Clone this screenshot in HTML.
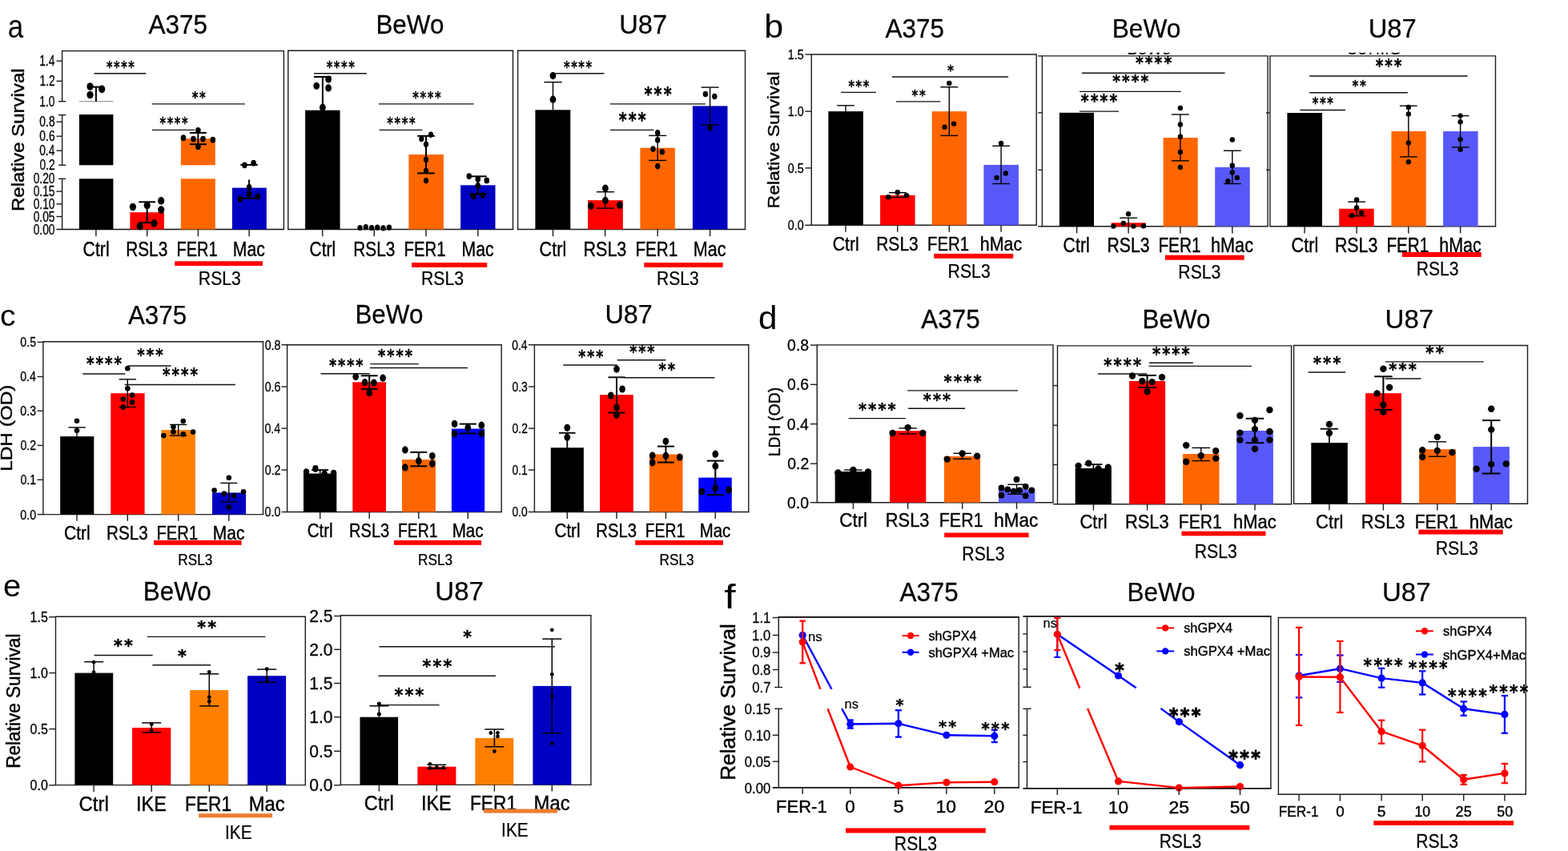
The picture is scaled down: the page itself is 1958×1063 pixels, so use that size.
<!DOCTYPE html>
<html lang="en"><head><meta charset="utf-8"><title>Figure</title>
<style>
html,body{margin:0;padding:0;background:#fff;}
body{width:1958px;height:1063px;overflow:hidden;font-family:'Liberation Sans',sans-serif;}
svg{display:block;}
text{white-space:pre;}
</style></head><body>
<svg width="1958" height="1063" viewBox="0 0 1958 1063">
<rect x="0" y="0" width="1958" height="1063" fill="#fff"/>
<text transform="translate(9.71,46.99) scale(1.7561,2.0457)" font-family="'Liberation Sans', sans-serif" font-size="20" fill="#000">a</text>
<text transform="translate(30.38,263.98) rotate(-90) scale(1.1990,1.0816)" font-family="'Liberation Sans', sans-serif" font-size="20" stroke="#000" stroke-width="0.4" stroke-linejoin="round">Relative Survival</text>
<line x1="77" y1="63.7" x2="355" y2="63.7" stroke="#111" stroke-width="1.3"/>
<line x1="70.5" y1="286.5" x2="355" y2="286.5" stroke="#111" stroke-width="1.3"/>
<line x1="354.4" y1="63.7" x2="354.4" y2="286.5" stroke="#111" stroke-width="1.3"/>
<line x1="77.6" y1="63.7" x2="77.6" y2="126.7" stroke="#111" stroke-width="1.3"/>
<line x1="77.6" y1="143.6" x2="77.6" y2="206.3" stroke="#111" stroke-width="1.3"/>
<line x1="77.6" y1="223.3" x2="77.6" y2="286.5" stroke="#111" stroke-width="1.3"/>
<line x1="70.5" y1="76.2" x2="77.6" y2="76.2" stroke="#1c1c1c" stroke-width="1.4"/>
<line x1="70.5" y1="101.3" x2="77.6" y2="101.3" stroke="#1c1c1c" stroke-width="1.4"/>
<line x1="70.5" y1="152.2" x2="77.6" y2="152.2" stroke="#1c1c1c" stroke-width="1.4"/>
<line x1="70.5" y1="170.2" x2="77.6" y2="170.2" stroke="#1c1c1c" stroke-width="1.4"/>
<line x1="70.5" y1="188.2" x2="77.6" y2="188.2" stroke="#1c1c1c" stroke-width="1.4"/>
<line x1="70.5" y1="239.1" x2="77.6" y2="239.1" stroke="#1c1c1c" stroke-width="1.4"/>
<line x1="70.5" y1="254.8" x2="77.6" y2="254.8" stroke="#1c1c1c" stroke-width="1.4"/>
<line x1="70.5" y1="270.5" x2="77.6" y2="270.5" stroke="#1c1c1c" stroke-width="1.4"/>
<line x1="73" y1="126.7" x2="82.2" y2="126.7" stroke="#1c1c1c" stroke-width="1.4"/>
<line x1="73" y1="143.6" x2="82.2" y2="143.6" stroke="#1c1c1c" stroke-width="1.4"/>
<line x1="73" y1="206.3" x2="82.2" y2="206.3" stroke="#1c1c1c" stroke-width="1.4"/>
<line x1="73" y1="223.3" x2="82.2" y2="223.3" stroke="#1c1c1c" stroke-width="1.4"/>
<text transform="translate(49.16,82.35) scale(0.7733,1)" font-family="'Liberation Sans', sans-serif" font-size="17.88" fill="#000" stroke="#000" stroke-width="0.3" stroke-linejoin="round">1.4</text>
<text transform="translate(49.47,107.45) scale(0.7733,1)" font-family="'Liberation Sans', sans-serif" font-size="17.88" fill="#000" stroke="#000" stroke-width="0.3" stroke-linejoin="round">1.2</text>
<text transform="translate(49.3,132.85) scale(0.7733,1)" font-family="'Liberation Sans', sans-serif" font-size="17.88" fill="#000" stroke="#000" stroke-width="0.3" stroke-linejoin="round">1.0</text>
<text transform="translate(49.37,158.35) scale(0.7733,1)" font-family="'Liberation Sans', sans-serif" font-size="17.88" fill="#000" stroke="#000" stroke-width="0.3" stroke-linejoin="round">0.8</text>
<text transform="translate(49.37,176.35) scale(0.7733,1)" font-family="'Liberation Sans', sans-serif" font-size="17.88" fill="#000" stroke="#000" stroke-width="0.3" stroke-linejoin="round">0.6</text>
<text transform="translate(49.16,194.35) scale(0.7733,1)" font-family="'Liberation Sans', sans-serif" font-size="17.88" fill="#000" stroke="#000" stroke-width="0.3" stroke-linejoin="round">0.4</text>
<text transform="translate(49.47,212.45) scale(0.7733,1)" font-family="'Liberation Sans', sans-serif" font-size="17.88" fill="#000" stroke="#000" stroke-width="0.3" stroke-linejoin="round">0.2</text>
<text transform="translate(41.63,229.45) scale(0.7733,1)" font-family="'Liberation Sans', sans-serif" font-size="17.88" fill="#000" stroke="#000" stroke-width="0.3" stroke-linejoin="round">0.20</text>
<text transform="translate(41.66,245.25) scale(0.7733,1)" font-family="'Liberation Sans', sans-serif" font-size="17.88" fill="#000" stroke="#000" stroke-width="0.3" stroke-linejoin="round">0.15</text>
<text transform="translate(41.63,260.95) scale(0.7733,1)" font-family="'Liberation Sans', sans-serif" font-size="17.88" fill="#000" stroke="#000" stroke-width="0.3" stroke-linejoin="round">0.10</text>
<text transform="translate(41.66,276.65) scale(0.7733,1)" font-family="'Liberation Sans', sans-serif" font-size="17.88" fill="#000" stroke="#000" stroke-width="0.3" stroke-linejoin="round">0.05</text>
<text transform="translate(41.63,292.65) scale(0.7733,1)" font-family="'Liberation Sans', sans-serif" font-size="17.88" fill="#000" stroke="#000" stroke-width="0.3" stroke-linejoin="round">0.00</text>
<text transform="translate(185.42,41.9) scale(0.9393,1)" font-family="'Liberation Sans', sans-serif" font-size="33.58" fill="#000" stroke="#000" stroke-width="0.25" stroke-linejoin="round">A375</text>
<rect x="98.9" y="143" width="42.5" height="63.3" fill="#000"/>
<rect x="98.9" y="223.3" width="42.5" height="63.2" fill="#000"/>
<line x1="98.9" y1="126.7" x2="141.4" y2="126.7" stroke="#333" stroke-width="0.6"/>
<rect x="162.4" y="265.2" width="42.5" height="21.3" fill="#ff0000"/>
<rect x="225.9" y="173.2" width="42.9" height="33.1" fill="#ff6600"/>
<rect x="225.9" y="223.3" width="42.9" height="63.2" fill="#ff6600"/>
<rect x="289.9" y="234.6" width="42.9" height="51.9" fill="#0000c0"/>
<line x1="119.9" y1="108.6" x2="119.9" y2="126.7" stroke="#000" stroke-width="2"/>
<line x1="114" y1="108.6" x2="127" y2="108.6" stroke="#000" stroke-width="2"/>
<ellipse cx="112.5" cy="108" rx="4.1" ry="4.83" fill="#000"/>
<ellipse cx="127.2" cy="111.3" rx="4.1" ry="4.83" fill="#000"/>
<ellipse cx="112.5" cy="118.5" rx="4.1" ry="4.83" fill="#000"/>
<line x1="183.7" y1="252.3" x2="183.7" y2="278.1" stroke="#000" stroke-width="2"/>
<line x1="173.2" y1="252.3" x2="194.2" y2="252.3" stroke="#000" stroke-width="2"/>
<line x1="173.2" y1="278.1" x2="194.2" y2="278.1" stroke="#000" stroke-width="2"/>
<ellipse cx="201.2" cy="250.9" rx="4.1" ry="4.83" fill="#000"/>
<ellipse cx="165.9" cy="258.5" rx="4.1" ry="4.83" fill="#000"/>
<ellipse cx="183.7" cy="256.6" rx="4.1" ry="4.83" fill="#000"/>
<ellipse cx="201.2" cy="262.1" rx="4.1" ry="4.83" fill="#000"/>
<ellipse cx="192.4" cy="278.9" rx="4.1" ry="4.83" fill="#000"/>
<ellipse cx="174.7" cy="282.6" rx="4.1" ry="4.83" fill="#000"/>
<line x1="247.4" y1="165.9" x2="247.4" y2="180.2" stroke="#000" stroke-width="2"/>
<line x1="236.9" y1="165.9" x2="257.9" y2="165.9" stroke="#000" stroke-width="2"/>
<line x1="236.9" y1="180.2" x2="257.9" y2="180.2" stroke="#000" stroke-width="2"/>
<ellipse cx="247.4" cy="162.8" rx="3.3" ry="3.91" fill="#000"/>
<ellipse cx="229" cy="172.2" rx="3.3" ry="3.91" fill="#000"/>
<ellipse cx="241.5" cy="173.6" rx="3.3" ry="3.91" fill="#000"/>
<ellipse cx="253.5" cy="173.6" rx="3.3" ry="3.91" fill="#000"/>
<ellipse cx="265.8" cy="174.7" rx="3.3" ry="3.91" fill="#000"/>
<ellipse cx="247.4" cy="183.2" rx="3.3" ry="3.91" fill="#000"/>
<line x1="300.3" y1="205.9" x2="321.8" y2="205.9" stroke="#000" stroke-width="2"/>
<line x1="311.1" y1="224.4" x2="311.1" y2="247.8" stroke="#000" stroke-width="2"/>
<line x1="300.3" y1="247.8" x2="321.8" y2="247.8" stroke="#000" stroke-width="2"/>
<ellipse cx="305.4" cy="206.3" rx="3.3" ry="3.91" fill="#000"/>
<ellipse cx="316.6" cy="203.7" rx="3.3" ry="3.91" fill="#000"/>
<ellipse cx="311.1" cy="234" rx="3.3" ry="3.91" fill="#000"/>
<ellipse cx="311.1" cy="242.7" rx="3.3" ry="3.91" fill="#000"/>
<ellipse cx="321.8" cy="245.4" rx="3.3" ry="3.91" fill="#000"/>
<ellipse cx="299.9" cy="248.5" rx="3.3" ry="3.91" fill="#000"/>
<line x1="117.5" y1="91.7" x2="182.4" y2="91.7" stroke="#111" stroke-width="1.4"/>
<text transform="translate(132.91,89.57) scale(0.7184,0.9677)" font-family="'DejaVu Sans', sans-serif" font-size="20" font-weight="bold" letter-spacing="2.24" fill="#000" stroke="#000" stroke-width="0.4" stroke-linejoin="round">****</text>
<line x1="189.6" y1="129.9" x2="305.8" y2="129.9" stroke="#111" stroke-width="1.4"/>
<text transform="translate(239.71,127.85) scale(0.7339,0.9462)" font-family="'DejaVu Sans', sans-serif" font-size="20" font-weight="bold" letter-spacing="2.24" fill="#000" stroke="#000" stroke-width="0.4" stroke-linejoin="round">**</text>
<line x1="190" y1="162.4" x2="243.1" y2="162.4" stroke="#111" stroke-width="1.4"/>
<text transform="translate(199.51,160.39) scale(0.7226,0.9892)" font-family="'DejaVu Sans', sans-serif" font-size="20" font-weight="bold" letter-spacing="2.24" fill="#000" stroke="#000" stroke-width="0.4" stroke-linejoin="round">****</text>
<line x1="119.9" y1="286.5" x2="119.9" y2="295.3" stroke="#1c1c1c" stroke-width="1.4"/>
<line x1="183.7" y1="286.5" x2="183.7" y2="295.3" stroke="#1c1c1c" stroke-width="1.4"/>
<line x1="247.4" y1="286.5" x2="247.4" y2="295.3" stroke="#1c1c1c" stroke-width="1.4"/>
<line x1="311.1" y1="286.5" x2="311.1" y2="295.3" stroke="#1c1c1c" stroke-width="1.4"/>
<text transform="translate(103.54,319.9) scale(0.8091,1)" font-family="'Liberation Sans', sans-serif" font-size="26.31" fill="#000" stroke="#000" stroke-width="0.4" stroke-linejoin="round">Ctrl</text>
<text transform="translate(157.18,319.9) scale(0.7922,1)" font-family="'Liberation Sans', sans-serif" font-size="26.31" fill="#000" stroke="#000" stroke-width="0.4" stroke-linejoin="round">RSL3</text>
<text transform="translate(220.45,319.9) scale(0.7618,1)" font-family="'Liberation Sans', sans-serif" font-size="26.31" fill="#000" stroke="#000" stroke-width="0.4" stroke-linejoin="round">FER1</text>
<text transform="translate(290.75,319.9) scale(0.8072,1)" font-family="'Liberation Sans', sans-serif" font-size="26.31" fill="#000" stroke="#000" stroke-width="0.4" stroke-linejoin="round">Mac</text>
<rect x="218.2" y="326.3" width="109.9" height="5.7" fill="#ff0000"/>
<text transform="translate(247.85,355.7) scale(0.8521,1)" font-family="'Liberation Sans', sans-serif" font-size="24.85" fill="#000" stroke="#000" stroke-width="0.25" stroke-linejoin="round">RSL3</text>
<line x1="359.1" y1="63.3" x2="641.2" y2="63.3" stroke="#1c1c1c" stroke-width="1.4"/>
<line x1="359.1" y1="286.5" x2="641.2" y2="286.5" stroke="#1c1c1c" stroke-width="1.4"/>
<line x1="640.5" y1="63.3" x2="640.5" y2="286.5" stroke="#1c1c1c" stroke-width="1.4"/>
<line x1="359.8" y1="63.3" x2="359.8" y2="286.5" stroke="#1c1c1c" stroke-width="1.4"/>
<text transform="translate(469.41,41.9) scale(0.9353,1)" font-family="'Liberation Sans', sans-serif" font-size="33.58" fill="#000" stroke="#000" stroke-width="0.25" stroke-linejoin="round">BeWo</text>
<rect x="381.1" y="137.7" width="43.5" height="148.8" fill="#000"/>
<rect x="510.4" y="193" width="43.5" height="93.5" fill="#ff6600"/>
<rect x="575.1" y="231.3" width="43.4" height="55.2" fill="#0000c0"/>
<line x1="402.9" y1="96" x2="402.9" y2="137.7" stroke="#000" stroke-width="2"/>
<line x1="392.1" y1="96" x2="413.5" y2="96" stroke="#000" stroke-width="2"/>
<ellipse cx="410.1" cy="99.1" rx="3.9" ry="4.6" fill="#000"/>
<ellipse cx="395.2" cy="107.3" rx="3.9" ry="4.6" fill="#000"/>
<ellipse cx="410.1" cy="109.9" rx="3.9" ry="4.6" fill="#000"/>
<ellipse cx="402.9" cy="134.2" rx="3.9" ry="4.6" fill="#000"/>
<ellipse cx="449.5" cy="284.5" rx="3.2" ry="3.6" fill="#000"/>
<ellipse cx="456.8" cy="283.6" rx="3.2" ry="3.6" fill="#000"/>
<ellipse cx="464.1" cy="284.5" rx="3.2" ry="3.6" fill="#000"/>
<ellipse cx="471.3" cy="284.2" rx="3.2" ry="3.6" fill="#000"/>
<ellipse cx="478.6" cy="284.8" rx="3.2" ry="3.6" fill="#000"/>
<ellipse cx="485.9" cy="284.2" rx="3.2" ry="3.6" fill="#000"/>
<line x1="532" y1="169.8" x2="532" y2="216.4" stroke="#000" stroke-width="2"/>
<line x1="521.15" y1="169.8" x2="542.85" y2="169.8" stroke="#000" stroke-width="2"/>
<line x1="521.15" y1="216.4" x2="542.85" y2="216.4" stroke="#000" stroke-width="2"/>
<ellipse cx="538" cy="168.2" rx="3.1" ry="3.68" fill="#000"/>
<ellipse cx="526.3" cy="173.5" rx="3.1" ry="3.68" fill="#000"/>
<ellipse cx="532" cy="180.2" rx="3.1" ry="3.68" fill="#000"/>
<ellipse cx="532" cy="199.4" rx="3.1" ry="3.68" fill="#000"/>
<ellipse cx="532" cy="213.5" rx="3.1" ry="3.68" fill="#000"/>
<ellipse cx="532" cy="225.6" rx="3.1" ry="3.68" fill="#000"/>
<line x1="596.8" y1="220.3" x2="596.8" y2="242.3" stroke="#000" stroke-width="2"/>
<line x1="585.95" y1="220.3" x2="607.65" y2="220.3" stroke="#000" stroke-width="2"/>
<line x1="585.95" y1="242.3" x2="607.65" y2="242.3" stroke="#000" stroke-width="2"/>
<ellipse cx="585.8" cy="220.1" rx="3.3" ry="3.91" fill="#000"/>
<ellipse cx="596.8" cy="223.7" rx="3.3" ry="3.91" fill="#000"/>
<ellipse cx="607.8" cy="225.4" rx="3.3" ry="3.91" fill="#000"/>
<ellipse cx="596.8" cy="231.9" rx="3.3" ry="3.91" fill="#000"/>
<ellipse cx="591.3" cy="245.2" rx="3.3" ry="3.91" fill="#000"/>
<ellipse cx="602.7" cy="243.8" rx="3.3" ry="3.91" fill="#000"/>
<line x1="392.1" y1="91.7" x2="457.9" y2="91.7" stroke="#111" stroke-width="1.4"/>
<text transform="translate(407.71,89.57) scale(0.7205,0.9677)" font-family="'DejaVu Sans', sans-serif" font-size="20" font-weight="bold" letter-spacing="2.24" fill="#000" stroke="#000" stroke-width="0.4" stroke-linejoin="round">****</text>
<line x1="473.2" y1="129.9" x2="591.7" y2="129.9" stroke="#111" stroke-width="1.4"/>
<text transform="translate(515.21,128.49) scale(0.7268,0.9892)" font-family="'DejaVu Sans', sans-serif" font-size="20" font-weight="bold" letter-spacing="2.24" fill="#000" stroke="#000" stroke-width="0.4" stroke-linejoin="round">****</text>
<line x1="473.6" y1="162.4" x2="527.5" y2="162.4" stroke="#111" stroke-width="1.4"/>
<text transform="translate(483.31,160.39) scale(0.7289,0.9892)" font-family="'DejaVu Sans', sans-serif" font-size="20" font-weight="bold" letter-spacing="2.24" fill="#000" stroke="#000" stroke-width="0.4" stroke-linejoin="round">****</text>
<line x1="402.7" y1="286.5" x2="402.7" y2="295.2" stroke="#1c1c1c" stroke-width="1.4"/>
<line x1="467.3" y1="286.5" x2="467.3" y2="295.2" stroke="#1c1c1c" stroke-width="1.4"/>
<line x1="532" y1="286.5" x2="532" y2="295.2" stroke="#1c1c1c" stroke-width="1.4"/>
<line x1="596.8" y1="286.5" x2="596.8" y2="295.2" stroke="#1c1c1c" stroke-width="1.4"/>
<text transform="translate(386.55,319.9) scale(0.7986,1)" font-family="'Liberation Sans', sans-serif" font-size="26.31" fill="#000" stroke="#000" stroke-width="0.4" stroke-linejoin="round">Ctrl</text>
<text transform="translate(441.28,319.9) scale(0.7906,1)" font-family="'Liberation Sans', sans-serif" font-size="26.31" fill="#000" stroke="#000" stroke-width="0.4" stroke-linejoin="round">RSL3</text>
<text transform="translate(504.41,319.9) scale(0.7775,1)" font-family="'Liberation Sans', sans-serif" font-size="26.31" fill="#000" stroke="#000" stroke-width="0.4" stroke-linejoin="round">FER1</text>
<text transform="translate(576.45,319.9) scale(0.8072,1)" font-family="'Liberation Sans', sans-serif" font-size="26.31" fill="#000" stroke="#000" stroke-width="0.4" stroke-linejoin="round">Mac</text>
<rect x="514.1" y="328.1" width="94.1" height="5.8" fill="#ff0000"/>
<text transform="translate(526.05,355.7) scale(0.8538,1)" font-family="'Liberation Sans', sans-serif" font-size="24.85" fill="#000" stroke="#000" stroke-width="0.25" stroke-linejoin="round">RSL3</text>
<line x1="645.9" y1="63.3" x2="931.2" y2="63.3" stroke="#1c1c1c" stroke-width="1.4"/>
<line x1="645.9" y1="286.5" x2="931.2" y2="286.5" stroke="#1c1c1c" stroke-width="1.4"/>
<line x1="930.5" y1="63.3" x2="930.5" y2="286.5" stroke="#1c1c1c" stroke-width="1.4"/>
<line x1="646.6" y1="63.3" x2="646.6" y2="286.5" stroke="#1c1c1c" stroke-width="1.4"/>
<text transform="translate(773.17,41.9) scale(0.9730,1)" font-family="'Liberation Sans', sans-serif" font-size="33.58" fill="#000" stroke="#000" stroke-width="0.25" stroke-linejoin="round">U87</text>
<rect x="668.4" y="137.3" width="43.9" height="149.2" fill="#000"/>
<rect x="734" y="250.1" width="43.9" height="36.4" fill="#ff0000"/>
<rect x="799.4" y="184.7" width="43.5" height="101.8" fill="#ff6600"/>
<rect x="864.9" y="132.4" width="43.6" height="154.1" fill="#0000c0"/>
<line x1="690.5" y1="102.6" x2="690.5" y2="137.3" stroke="#000" stroke-width="1.4"/>
<line x1="679.4" y1="102.6" x2="701.7" y2="102.6" stroke="#000" stroke-width="1.4"/>
<ellipse cx="690.5" cy="94.6" rx="3.9" ry="4.6" fill="#000"/>
<ellipse cx="690.5" cy="124.2" rx="3.9" ry="4.6" fill="#000"/>
<line x1="755.9" y1="239.7" x2="755.9" y2="260.1" stroke="#000" stroke-width="1.4"/>
<line x1="744.9" y1="239.7" x2="766.9" y2="239.7" stroke="#000" stroke-width="1.4"/>
<line x1="744.9" y1="260.1" x2="766.9" y2="260.1" stroke="#000" stroke-width="1.4"/>
<ellipse cx="755.9" cy="235.2" rx="3.9" ry="4.6" fill="#000"/>
<ellipse cx="755.9" cy="250.5" rx="3.9" ry="4.6" fill="#000"/>
<ellipse cx="737.9" cy="257.2" rx="3.9" ry="4.6" fill="#000"/>
<ellipse cx="773.8" cy="256.2" rx="3.9" ry="4.6" fill="#000"/>
<line x1="821.2" y1="169.4" x2="821.2" y2="200.4" stroke="#000" stroke-width="1.4"/>
<line x1="810.2" y1="169.4" x2="832.2" y2="169.4" stroke="#000" stroke-width="1.4"/>
<line x1="810.2" y1="200.4" x2="832.2" y2="200.4" stroke="#000" stroke-width="1.4"/>
<ellipse cx="821.2" cy="165.9" rx="3.2" ry="3.79" fill="#000"/>
<ellipse cx="821.2" cy="174.9" rx="3.2" ry="3.79" fill="#000"/>
<ellipse cx="815.5" cy="186.1" rx="3.2" ry="3.79" fill="#000"/>
<ellipse cx="826.9" cy="189.8" rx="3.2" ry="3.79" fill="#000"/>
<ellipse cx="821.2" cy="207.6" rx="3.2" ry="3.79" fill="#000"/>
<line x1="886.6" y1="109.1" x2="886.6" y2="155.9" stroke="#000" stroke-width="1.4"/>
<line x1="875.6" y1="109.1" x2="897.6" y2="109.1" stroke="#000" stroke-width="1.4"/>
<line x1="875.6" y1="155.9" x2="897.6" y2="155.9" stroke="#000" stroke-width="1.4"/>
<ellipse cx="880.9" cy="117.5" rx="3.2" ry="3.79" fill="#000"/>
<ellipse cx="892.3" cy="120.5" rx="3.2" ry="3.79" fill="#000"/>
<ellipse cx="886.6" cy="159.8" rx="3.2" ry="3.79" fill="#000"/>
<line x1="693.5" y1="91.7" x2="754.6" y2="91.7" stroke="#111" stroke-width="1.4"/>
<text transform="translate(703.91,89.57) scale(0.7268,0.9677)" font-family="'DejaVu Sans', sans-serif" font-size="20" font-weight="bold" letter-spacing="2.24" fill="#000" stroke="#000" stroke-width="0.4" stroke-linejoin="round">****</text>
<line x1="762" y1="129.9" x2="880.9" y2="129.9" stroke="#111" stroke-width="1.4"/>
<text transform="translate(804.52,125.58) scale(0.9502,1.2043)" font-family="'DejaVu Sans', sans-serif" font-size="20" font-weight="bold" letter-spacing="2.24" fill="#000" stroke="#000" stroke-width="0.4" stroke-linejoin="round">***</text>
<line x1="762" y1="162.4" x2="816.5" y2="162.4" stroke="#111" stroke-width="1.4"/>
<text transform="translate(772.82,157.94) scale(0.9445,1.2151)" font-family="'DejaVu Sans', sans-serif" font-size="20" font-weight="bold" letter-spacing="2.24" fill="#000" stroke="#000" stroke-width="0.4" stroke-linejoin="round">***</text>
<line x1="690.5" y1="286.5" x2="690.5" y2="295.2" stroke="#1c1c1c" stroke-width="1.4"/>
<line x1="755.6" y1="286.5" x2="755.6" y2="295.2" stroke="#1c1c1c" stroke-width="1.4"/>
<line x1="821.2" y1="286.5" x2="821.2" y2="295.2" stroke="#1c1c1c" stroke-width="1.4"/>
<line x1="886.6" y1="286.5" x2="886.6" y2="295.2" stroke="#1c1c1c" stroke-width="1.4"/>
<text transform="translate(673.62,319.9) scale(0.8224,1)" font-family="'Liberation Sans', sans-serif" font-size="26.31" fill="#000" stroke="#000" stroke-width="0.4" stroke-linejoin="round">Ctrl</text>
<text transform="translate(728.52,319.9) scale(0.8178,1)" font-family="'Liberation Sans', sans-serif" font-size="26.31" fill="#000" stroke="#000" stroke-width="0.4" stroke-linejoin="round">RSL3</text>
<text transform="translate(793.39,319.9) scale(0.7869,1)" font-family="'Liberation Sans', sans-serif" font-size="26.31" fill="#000" stroke="#000" stroke-width="0.4" stroke-linejoin="round">FER1</text>
<text transform="translate(865.82,319.9) scale(0.8200,1)" font-family="'Liberation Sans', sans-serif" font-size="26.31" fill="#000" stroke="#000" stroke-width="0.4" stroke-linejoin="round">Mac</text>
<rect x="804.3" y="328.1" width="98.4" height="5.8" fill="#ff0000"/>
<text transform="translate(820.06,355.7) scale(0.8487,1)" font-family="'Liberation Sans', sans-serif" font-size="24.85" fill="#000" stroke="#000" stroke-width="0.25" stroke-linejoin="round">RSL3</text>
<text transform="translate(954.3,47) scale(2.1556,2.0136)" font-family="'Liberation Sans', sans-serif" font-size="20" fill="#000">b</text>
<text transform="translate(973.19,260.39) rotate(-90) scale(1.1483,1.0408)" font-family="'Liberation Sans', sans-serif" font-size="20" stroke="#000" stroke-width="0.4" stroke-linejoin="round">Relative Survival</text>
<line x1="1012.6" y1="68" x2="1294.9" y2="68" stroke="#1c1c1c" stroke-width="1.4"/>
<line x1="1012.6" y1="281.3" x2="1294.9" y2="281.3" stroke="#1c1c1c" stroke-width="1.4"/>
<line x1="1294.2" y1="68" x2="1294.2" y2="281.3" stroke="#1c1c1c" stroke-width="1.4"/>
<line x1="1013.3" y1="68" x2="1013.3" y2="281.3" stroke="#1c1c1c" stroke-width="1.4"/>
<line x1="1005.4" y1="68" x2="1013.3" y2="68" stroke="#1c1c1c" stroke-width="1.4"/>
<line x1="1005.4" y1="139.1" x2="1013.3" y2="139.1" stroke="#1c1c1c" stroke-width="1.4"/>
<line x1="1005.4" y1="209.9" x2="1013.3" y2="209.9" stroke="#1c1c1c" stroke-width="1.4"/>
<line x1="1005.4" y1="281.3" x2="1013.3" y2="281.3" stroke="#1c1c1c" stroke-width="1.4"/>
<text transform="translate(983.82,73.8) scale(0.8559,1)" font-family="'Liberation Sans', sans-serif" font-size="16.86" fill="#000" stroke="#000" stroke-width="0.3" stroke-linejoin="round">1.5</text>
<text transform="translate(983.78,144.9) scale(0.8559,1)" font-family="'Liberation Sans', sans-serif" font-size="16.86" fill="#000" stroke="#000" stroke-width="0.3" stroke-linejoin="round">1.0</text>
<text transform="translate(983.82,215.7) scale(0.8559,1)" font-family="'Liberation Sans', sans-serif" font-size="16.86" fill="#000" stroke="#000" stroke-width="0.3" stroke-linejoin="round">0.5</text>
<text transform="translate(983.78,287.1) scale(0.8559,1)" font-family="'Liberation Sans', sans-serif" font-size="16.86" fill="#000" stroke="#000" stroke-width="0.3" stroke-linejoin="round">0.0</text>
<text transform="translate(1105.62,46.6) scale(0.9367,1)" font-family="'Liberation Sans', sans-serif" font-size="33.58" fill="#000" stroke="#000" stroke-width="0.25" stroke-linejoin="round">A375</text>
<rect x="1034.4" y="139.1" width="43.5" height="142.2" fill="#000"/>
<rect x="1099.1" y="243.8" width="43.5" height="37.5" fill="#ff0000"/>
<rect x="1163.7" y="139.1" width="43.5" height="142.2" fill="#ff6600"/>
<rect x="1228.4" y="205.9" width="43.6" height="75.4" fill="#5858f8"/>
<line x1="1056" y1="131.8" x2="1056" y2="139.1" stroke="#000" stroke-width="1.4"/>
<line x1="1045.2" y1="131.8" x2="1066.8" y2="131.8" stroke="#000" stroke-width="1.4"/>
<line x1="1120.8" y1="240.7" x2="1120.8" y2="246.4" stroke="#000" stroke-width="1.4"/>
<line x1="1109.9" y1="240.7" x2="1131.7" y2="240.7" stroke="#000" stroke-width="1.4"/>
<line x1="1109.9" y1="246.4" x2="1131.7" y2="246.4" stroke="#000" stroke-width="1.4"/>
<circle cx="1120.8" cy="240.3" r="3.3" fill="#000"/>
<circle cx="1109.3" cy="246.2" r="3.3" fill="#000"/>
<circle cx="1132" cy="244.2" r="3.3" fill="#000"/>
<line x1="1185.3" y1="108.7" x2="1185.3" y2="169.4" stroke="#000" stroke-width="1.4"/>
<line x1="1174.3" y1="108.7" x2="1196.3" y2="108.7" stroke="#000" stroke-width="1.4"/>
<line x1="1174.3" y1="169.4" x2="1196.3" y2="169.4" stroke="#000" stroke-width="1.4"/>
<circle cx="1185.3" cy="104" r="3.2" fill="#000"/>
<circle cx="1191.1" cy="154.6" r="3.2" fill="#000"/>
<circle cx="1179.6" cy="158.7" r="3.2" fill="#000"/>
<line x1="1250.1" y1="182.3" x2="1250.1" y2="229.5" stroke="#000" stroke-width="1.4"/>
<line x1="1239.3" y1="182.3" x2="1260.9" y2="182.3" stroke="#000" stroke-width="1.4"/>
<line x1="1239.3" y1="229.5" x2="1260.9" y2="229.5" stroke="#000" stroke-width="1.4"/>
<circle cx="1250.1" cy="179" r="3.2" fill="#000"/>
<circle cx="1255.8" cy="216.4" r="3.2" fill="#000"/>
<circle cx="1244.6" cy="221.9" r="3.2" fill="#000"/>
<line x1="1050.1" y1="115.4" x2="1094" y2="115.4" stroke="#111" stroke-width="1.4"/>
<text transform="translate(1059.41,113.55) scale(0.7219,0.9462)" font-family="'DejaVu Sans', sans-serif" font-size="20" font-weight="bold" letter-spacing="2.24" fill="#000" stroke="#000" stroke-width="0.4" stroke-linejoin="round">***</text>
<line x1="1114" y1="96" x2="1259.1" y2="96" stroke="#111" stroke-width="1.4"/>
<text transform="translate(1182.99,94.43) scale(0.7772,0.9247)" font-family="'DejaVu Sans', sans-serif" font-size="20" font-weight="bold" letter-spacing="2.24" fill="#000" stroke="#000" stroke-width="0.4" stroke-linejoin="round">*</text>
<line x1="1119.1" y1="126.9" x2="1174.3" y2="126.9" stroke="#111" stroke-width="1.4"/>
<text transform="translate(1138.5,124.63) scale(0.7473,0.9247)" font-family="'DejaVu Sans', sans-serif" font-size="20" font-weight="bold" letter-spacing="2.24" fill="#000" stroke="#000" stroke-width="0.4" stroke-linejoin="round">**</text>
<line x1="1056" y1="281.3" x2="1056" y2="289.7" stroke="#1c1c1c" stroke-width="1.4"/>
<line x1="1120.8" y1="281.3" x2="1120.8" y2="289.7" stroke="#1c1c1c" stroke-width="1.4"/>
<line x1="1185.3" y1="281.3" x2="1185.3" y2="289.7" stroke="#1c1c1c" stroke-width="1.4"/>
<line x1="1250.1" y1="281.3" x2="1250.1" y2="289.7" stroke="#1c1c1c" stroke-width="1.4"/>
<text transform="translate(1039.64,312.9) scale(0.8615,1)" font-family="'Liberation Sans', sans-serif" font-size="24.71" fill="#000" stroke="#000" stroke-width="0.4" stroke-linejoin="round">Ctrl</text>
<text transform="translate(1094.16,312.9) scale(0.8520,1)" font-family="'Liberation Sans', sans-serif" font-size="24.71" fill="#000" stroke="#000" stroke-width="0.4" stroke-linejoin="round">RSL3</text>
<text transform="translate(1157.91,312.9) scale(0.8278,1)" font-family="'Liberation Sans', sans-serif" font-size="24.71" fill="#000" stroke="#000" stroke-width="0.4" stroke-linejoin="round">FER1</text>
<text transform="translate(1223.7,312.9) scale(0.8689,1)" font-family="'Liberation Sans', sans-serif" font-size="24.71" fill="#000" stroke="#000" stroke-width="0.4" stroke-linejoin="round">hMac</text>
<rect x="1166.3" y="316.9" width="98.9" height="5.9" fill="#ff0000"/>
<text transform="translate(1183.55,346.5) scale(0.8708,1)" font-family="'Liberation Sans', sans-serif" font-size="24.42" fill="#000" stroke="#000" stroke-width="0.25" stroke-linejoin="round">RSL3</text>
<clipPath id="cb1"><rect x="1400" y="65.7" width="80" height="2.4"/></clipPath>
<g clip-path="url(#cb1)">
<text transform="translate(1407.43,67.9) scale(0.9289,1)" font-family="'Liberation Sans', sans-serif" font-size="21.8" fill="#000" stroke="#000" stroke-width="0.2" stroke-linejoin="round">BeWo</text>
</g>
<line x1="1300.7" y1="69.9" x2="1583.8" y2="69.9" stroke="#1c1c1c" stroke-width="1.4"/>
<line x1="1300.7" y1="282.8" x2="1583.8" y2="282.8" stroke="#1c1c1c" stroke-width="1.4"/>
<line x1="1583.1" y1="69.9" x2="1583.1" y2="282.8" stroke="#1c1c1c" stroke-width="1.4"/>
<line x1="1301.4" y1="69.9" x2="1301.4" y2="282.8" stroke="#1c1c1c" stroke-width="1.4"/>
<line x1="1296.2" y1="69.9" x2="1301.4" y2="69.9" stroke="#1c1c1c" stroke-width="1.4"/>
<line x1="1296.2" y1="140.8" x2="1301.4" y2="140.8" stroke="#1c1c1c" stroke-width="1.4"/>
<line x1="1296.2" y1="212.2" x2="1301.4" y2="212.2" stroke="#1c1c1c" stroke-width="1.4"/>
<line x1="1296.2" y1="282.8" x2="1301.4" y2="282.8" stroke="#1c1c1c" stroke-width="1.4"/>
<text transform="translate(1388.69,46.6) scale(0.9434,1)" font-family="'Liberation Sans', sans-serif" font-size="33.58" fill="#000" stroke="#000" stroke-width="0.25" stroke-linejoin="round">BeWo</text>
<rect x="1322.9" y="140.8" width="43.1" height="142" fill="#000"/>
<rect x="1387.7" y="278.3" width="43.1" height="4.5" fill="#ff0000"/>
<rect x="1452.6" y="172" width="43.1" height="110.8" fill="#ff6600"/>
<rect x="1517.2" y="208.8" width="43.5" height="74" fill="#5858f8"/>
<line x1="1409.1" y1="272.2" x2="1409.1" y2="282.8" stroke="#000" stroke-width="1.4"/>
<line x1="1398.2" y1="272.2" x2="1420" y2="272.2" stroke="#000" stroke-width="1.4"/>
<circle cx="1409.1" cy="267.3" r="3.2" fill="#000"/>
<circle cx="1402.8" cy="278.9" r="3.2" fill="#000"/>
<circle cx="1390.3" cy="282.6" r="3.2" fill="#000"/>
<circle cx="1415.4" cy="282.6" r="3.2" fill="#000"/>
<circle cx="1427.9" cy="282.2" r="3.2" fill="#000"/>
<line x1="1473.9" y1="143" x2="1473.9" y2="200.8" stroke="#000" stroke-width="1.4"/>
<line x1="1463" y1="143" x2="1484.8" y2="143" stroke="#000" stroke-width="1.4"/>
<line x1="1463" y1="200.8" x2="1484.8" y2="200.8" stroke="#000" stroke-width="1.4"/>
<circle cx="1473.9" cy="135" r="3.2" fill="#000"/>
<circle cx="1473.9" cy="155.5" r="3.2" fill="#000"/>
<circle cx="1473.9" cy="170.8" r="3.2" fill="#000"/>
<circle cx="1473.9" cy="190" r="3.2" fill="#000"/>
<circle cx="1473.9" cy="208.9" r="3.2" fill="#000"/>
<line x1="1538.8" y1="188.2" x2="1538.8" y2="229.5" stroke="#000" stroke-width="1.4"/>
<line x1="1527.9" y1="188.2" x2="1549.7" y2="188.2" stroke="#000" stroke-width="1.4"/>
<line x1="1527.9" y1="229.5" x2="1549.7" y2="229.5" stroke="#000" stroke-width="1.4"/>
<circle cx="1538.8" cy="174.5" r="3.2" fill="#000"/>
<circle cx="1538.8" cy="206.8" r="3.2" fill="#000"/>
<circle cx="1538.8" cy="215.4" r="3.2" fill="#000"/>
<circle cx="1544.8" cy="221.9" r="3.2" fill="#000"/>
<circle cx="1533.3" cy="226.2" r="3.2" fill="#000"/>
<line x1="1350.9" y1="91.3" x2="1529.6" y2="91.3" stroke="#111" stroke-width="1.4"/>
<text transform="translate(1417.93,86.07) scale(0.9321,1.0753)" font-family="'DejaVu Sans', sans-serif" font-size="20" font-weight="bold" letter-spacing="2.24" fill="#000" stroke="#000" stroke-width="0.4" stroke-linejoin="round">****</text>
<line x1="1348" y1="114.4" x2="1474.7" y2="114.4" stroke="#111" stroke-width="1.4"/>
<text transform="translate(1389.13,109.29) scale(0.9279,1.0968)" font-family="'DejaVu Sans', sans-serif" font-size="20" font-weight="bold" letter-spacing="2.24" fill="#000" stroke="#000" stroke-width="0.4" stroke-linejoin="round">****</text>
<line x1="1348" y1="139.1" x2="1397.1" y2="139.1" stroke="#111" stroke-width="1.4"/>
<text transform="translate(1349.72,134.43) scale(0.9405,1.1398)" font-family="'DejaVu Sans', sans-serif" font-size="20" font-weight="bold" letter-spacing="2.24" fill="#000" stroke="#000" stroke-width="0.4" stroke-linejoin="round">****</text>
<line x1="1344.6" y1="282.8" x2="1344.6" y2="291.4" stroke="#1c1c1c" stroke-width="1.4"/>
<line x1="1409.1" y1="282.8" x2="1409.1" y2="291.4" stroke="#1c1c1c" stroke-width="1.4"/>
<line x1="1473.9" y1="282.8" x2="1473.9" y2="291.4" stroke="#1c1c1c" stroke-width="1.4"/>
<line x1="1538.8" y1="282.8" x2="1538.8" y2="291.4" stroke="#1c1c1c" stroke-width="1.4"/>
<text transform="translate(1327.53,314.7) scale(0.8493,1)" font-family="'Liberation Sans', sans-serif" font-size="25.15" fill="#000" stroke="#000" stroke-width="0.4" stroke-linejoin="round">Ctrl</text>
<text transform="translate(1382.45,314.7) scale(0.8439,1)" font-family="'Liberation Sans', sans-serif" font-size="25.15" fill="#000" stroke="#000" stroke-width="0.4" stroke-linejoin="round">RSL3</text>
<text transform="translate(1446.38,314.7) scale(0.8282,1)" font-family="'Liberation Sans', sans-serif" font-size="25.15" fill="#000" stroke="#000" stroke-width="0.4" stroke-linejoin="round">FER1</text>
<text transform="translate(1511.98,314.7) scale(0.8623,1)" font-family="'Liberation Sans', sans-serif" font-size="25.15" fill="#000" stroke="#000" stroke-width="0.4" stroke-linejoin="round">hMac</text>
<rect x="1454.9" y="318.7" width="98.8" height="6" fill="#ff0000"/>
<text transform="translate(1471.35,347.9) scale(0.8691,1)" font-family="'Liberation Sans', sans-serif" font-size="24.42" fill="#000" stroke="#000" stroke-width="0.25" stroke-linejoin="round">RSL3</text>
<clipPath id="cb2"><rect x="1670" y="65.7" width="90" height="2.4"/></clipPath>
<g clip-path="url(#cb2)">
<text transform="translate(1681.46,67.9) scale(0.9111,1)" font-family="'Liberation Sans', sans-serif" font-size="21.8" fill="#000" stroke="#000" stroke-width="0.2" stroke-linejoin="round">U87MG</text>
</g>
<line x1="1585.2" y1="69.9" x2="1868.2" y2="69.9" stroke="#1c1c1c" stroke-width="1.4"/>
<line x1="1585.2" y1="282.8" x2="1868.2" y2="282.8" stroke="#1c1c1c" stroke-width="1.4"/>
<line x1="1867.5" y1="69.9" x2="1867.5" y2="282.8" stroke="#1c1c1c" stroke-width="1.4"/>
<line x1="1585.9" y1="69.9" x2="1585.9" y2="282.8" stroke="#1c1c1c" stroke-width="1.4"/>
<line x1="1581" y1="141" x2="1585.9" y2="141" stroke="#1c1c1c" stroke-width="1.4"/>
<line x1="1581" y1="212.3" x2="1585.9" y2="212.3" stroke="#1c1c1c" stroke-width="1.4"/>
<text transform="translate(1708.66,46.6) scale(0.9747,1)" font-family="'Liberation Sans', sans-serif" font-size="33.58" fill="#000" stroke="#000" stroke-width="0.25" stroke-linejoin="round">U87</text>
<rect x="1607.4" y="141" width="43.6" height="141.8" fill="#000"/>
<rect x="1672.2" y="260.7" width="43.5" height="22.1" fill="#ff0000"/>
<rect x="1737.4" y="164" width="43.3" height="118.8" fill="#ff6600"/>
<rect x="1802.1" y="164" width="43.5" height="118.8" fill="#5858f8"/>
<line x1="1694.1" y1="252.1" x2="1694.1" y2="269.7" stroke="#000" stroke-width="1.4"/>
<line x1="1683.2" y1="252.1" x2="1705" y2="252.1" stroke="#000" stroke-width="1.4"/>
<line x1="1683.2" y1="269.7" x2="1705" y2="269.7" stroke="#000" stroke-width="1.4"/>
<circle cx="1694.1" cy="249.5" r="3.2" fill="#000"/>
<circle cx="1694.1" cy="259.5" r="3.2" fill="#000"/>
<circle cx="1700" cy="265.8" r="3.2" fill="#000"/>
<circle cx="1688.3" cy="269.3" r="3.2" fill="#000"/>
<line x1="1758.8" y1="132.2" x2="1758.8" y2="195.9" stroke="#000" stroke-width="1.4"/>
<line x1="1747.9" y1="132.2" x2="1769.7" y2="132.2" stroke="#000" stroke-width="1.4"/>
<line x1="1747.9" y1="195.9" x2="1769.7" y2="195.9" stroke="#000" stroke-width="1.4"/>
<circle cx="1758.8" cy="134" r="3.2" fill="#000"/>
<circle cx="1758.8" cy="142.4" r="3.2" fill="#000"/>
<circle cx="1758.8" cy="178.5" r="3.2" fill="#000"/>
<circle cx="1758.8" cy="202.3" r="3.2" fill="#000"/>
<line x1="1823.6" y1="144.6" x2="1823.6" y2="183.9" stroke="#000" stroke-width="1.4"/>
<line x1="1812.7" y1="144.6" x2="1834.5" y2="144.6" stroke="#000" stroke-width="1.4"/>
<line x1="1812.7" y1="183.9" x2="1834.5" y2="183.9" stroke="#000" stroke-width="1.4"/>
<circle cx="1823.6" cy="144.6" r="3.2" fill="#000"/>
<circle cx="1823.6" cy="152.2" r="3.2" fill="#000"/>
<circle cx="1823.6" cy="174.1" r="3.2" fill="#000"/>
<circle cx="1823.6" cy="186.7" r="3.2" fill="#000"/>
<line x1="1635.2" y1="95" x2="1832.6" y2="95" stroke="#111" stroke-width="1.4"/>
<text transform="translate(1717.63,89.95) scale(0.9131,1.1075)" font-family="'DejaVu Sans', sans-serif" font-size="20" font-weight="bold" letter-spacing="2.24" fill="#000" stroke="#000" stroke-width="0.4" stroke-linejoin="round">***</text>
<line x1="1635.2" y1="115.8" x2="1757.8" y2="115.8" stroke="#111" stroke-width="1.4"/>
<text transform="translate(1688.4,113.19) scale(0.7518,0.8817)" font-family="'DejaVu Sans', sans-serif" font-size="20" font-weight="bold" letter-spacing="2.24" fill="#000" stroke="#000" stroke-width="0.4" stroke-linejoin="round">**</text>
<line x1="1623.4" y1="137.5" x2="1680" y2="137.5" stroke="#111" stroke-width="1.4"/>
<text transform="translate(1638.81,135.49) scale(0.7276,0.9355)" font-family="'DejaVu Sans', sans-serif" font-size="20" font-weight="bold" letter-spacing="2.24" fill="#000" stroke="#000" stroke-width="0.4" stroke-linejoin="round">***</text>
<line x1="1629.1" y1="282.8" x2="1629.1" y2="291.4" stroke="#1c1c1c" stroke-width="1.4"/>
<line x1="1694.1" y1="282.8" x2="1694.1" y2="291.4" stroke="#1c1c1c" stroke-width="1.4"/>
<line x1="1758.8" y1="282.8" x2="1758.8" y2="291.4" stroke="#1c1c1c" stroke-width="1.4"/>
<line x1="1823.6" y1="282.8" x2="1823.6" y2="291.4" stroke="#1c1c1c" stroke-width="1.4"/>
<text transform="translate(1612.51,314.7) scale(0.8632,1)" font-family="'Liberation Sans', sans-serif" font-size="25.15" fill="#000" stroke="#000" stroke-width="0.4" stroke-linejoin="round">Ctrl</text>
<text transform="translate(1666.94,314.7) scale(0.8490,1)" font-family="'Liberation Sans', sans-serif" font-size="25.15" fill="#000" stroke="#000" stroke-width="0.4" stroke-linejoin="round">RSL3</text>
<text transform="translate(1731.39,314.7) scale(0.8233,1)" font-family="'Liberation Sans', sans-serif" font-size="25.15" fill="#000" stroke="#000" stroke-width="0.4" stroke-linejoin="round">FER1</text>
<text transform="translate(1797.2,314.7) scale(0.8538,1)" font-family="'Liberation Sans', sans-serif" font-size="25.15" fill="#000" stroke="#000" stroke-width="0.4" stroke-linejoin="round">hMac</text>
<rect x="1750.9" y="315" width="98.8" height="6" fill="#ff0000"/>
<text transform="translate(1768.76,343.9) scale(0.8622,1)" font-family="'Liberation Sans', sans-serif" font-size="24.42" fill="#000" stroke="#000" stroke-width="0.25" stroke-linejoin="round">RSL3</text>
<text transform="translate(-0.06,407.03) scale(1.9535,1.8630)" font-family="'Liberation Sans', sans-serif" font-size="20" fill="#000">c</text>
<text transform="translate(15.31,588.81) rotate(-90) scale(1.2186,0.9866)" font-family="'Liberation Sans', sans-serif" font-size="20" stroke="#000" stroke-width="0.4" stroke-linejoin="round">LDH (OD)</text>
<line x1="53.2" y1="426.8" x2="329.2" y2="426.8" stroke="#1c1c1c" stroke-width="1.4"/>
<line x1="53.2" y1="642.6" x2="329.2" y2="642.6" stroke="#1c1c1c" stroke-width="1.4"/>
<line x1="328.5" y1="426.8" x2="328.5" y2="642.6" stroke="#1c1c1c" stroke-width="1.4"/>
<line x1="53.9" y1="426.8" x2="53.9" y2="642.6" stroke="#1c1c1c" stroke-width="1.4"/>
<line x1="46.6" y1="427.4" x2="53.9" y2="427.4" stroke="#1c1c1c" stroke-width="1.4"/>
<line x1="46.6" y1="470.5" x2="53.9" y2="470.5" stroke="#1c1c1c" stroke-width="1.4"/>
<line x1="46.6" y1="513.2" x2="53.9" y2="513.2" stroke="#1c1c1c" stroke-width="1.4"/>
<line x1="46.6" y1="556.4" x2="53.9" y2="556.4" stroke="#1c1c1c" stroke-width="1.4"/>
<line x1="46.6" y1="599.3" x2="53.9" y2="599.3" stroke="#1c1c1c" stroke-width="1.4"/>
<line x1="46.6" y1="642.6" x2="53.9" y2="642.6" stroke="#1c1c1c" stroke-width="1.4"/>
<text transform="translate(25.33,433.35) scale(0.8209,1)" font-family="'Liberation Sans', sans-serif" font-size="17.3" fill="#000" stroke="#000" stroke-width="0.3" stroke-linejoin="round">0.5</text>
<text transform="translate(25.15,476.45) scale(0.8209,1)" font-family="'Liberation Sans', sans-serif" font-size="17.3" fill="#000" stroke="#000" stroke-width="0.3" stroke-linejoin="round">0.4</text>
<text transform="translate(25.37,519.15) scale(0.8209,1)" font-family="'Liberation Sans', sans-serif" font-size="17.3" fill="#000" stroke="#000" stroke-width="0.3" stroke-linejoin="round">0.3</text>
<text transform="translate(25.47,562.35) scale(0.8209,1)" font-family="'Liberation Sans', sans-serif" font-size="17.3" fill="#000" stroke="#000" stroke-width="0.3" stroke-linejoin="round">0.2</text>
<text transform="translate(25.44,605.25) scale(0.8209,1)" font-family="'Liberation Sans', sans-serif" font-size="17.3" fill="#000" stroke="#000" stroke-width="0.3" stroke-linejoin="round">0.1</text>
<text transform="translate(25.3,648.55) scale(0.8209,1)" font-family="'Liberation Sans', sans-serif" font-size="17.3" fill="#000" stroke="#000" stroke-width="0.3" stroke-linejoin="round">0.0</text>
<text transform="translate(159.92,404.5) scale(0.9341,1)" font-family="'Liberation Sans', sans-serif" font-size="33.58" fill="#000" stroke="#000" stroke-width="0.25" stroke-linejoin="round">A375</text>
<rect x="75.2" y="545.1" width="42.1" height="97.5" fill="#000"/>
<rect x="138.3" y="491.2" width="42.3" height="151.4" fill="#ff0000"/>
<rect x="201.4" y="537.1" width="42.5" height="105.5" fill="#ff8000"/>
<rect x="265" y="615.4" width="42" height="27.2" fill="#0000c0"/>
<line x1="96" y1="533.9" x2="96" y2="545.1" stroke="#000" stroke-width="1.4"/>
<line x1="85.4" y1="533.9" x2="106.8" y2="533.9" stroke="#000" stroke-width="1.4"/>
<circle cx="96" cy="525.7" r="3.3" fill="#000"/>
<circle cx="96" cy="537.7" r="3.3" fill="#000"/>
<line x1="159.3" y1="473.8" x2="159.3" y2="508.5" stroke="#000" stroke-width="1.4"/>
<line x1="148.65" y1="473.8" x2="169.95" y2="473.8" stroke="#000" stroke-width="1.4"/>
<line x1="148.65" y1="508.5" x2="169.95" y2="508.5" stroke="#000" stroke-width="1.4"/>
<circle cx="159.3" cy="460.3" r="3.3" fill="#000"/>
<circle cx="159.3" cy="485.2" r="3.3" fill="#000"/>
<circle cx="165.1" cy="493.6" r="3.3" fill="#000"/>
<circle cx="153.8" cy="498.7" r="3.3" fill="#000"/>
<circle cx="165.1" cy="502.4" r="3.3" fill="#000"/>
<circle cx="153.8" cy="508.5" r="3.3" fill="#000"/>
<line x1="222.7" y1="530.4" x2="222.7" y2="544.1" stroke="#000" stroke-width="1.4"/>
<line x1="212.05" y1="530.4" x2="233.35" y2="530.4" stroke="#000" stroke-width="1.4"/>
<line x1="212.05" y1="544.1" x2="233.35" y2="544.1" stroke="#000" stroke-width="1.4"/>
<circle cx="228.8" cy="526.1" r="3.3" fill="#000"/>
<circle cx="216.5" cy="533.2" r="3.3" fill="#000"/>
<circle cx="216.5" cy="539.4" r="3.3" fill="#000"/>
<circle cx="241.1" cy="539.6" r="3.3" fill="#000"/>
<circle cx="204.3" cy="544.1" r="3.3" fill="#000"/>
<circle cx="228.8" cy="542.4" r="3.3" fill="#000"/>
<line x1="285.8" y1="603.4" x2="285.8" y2="627" stroke="#000" stroke-width="1.4"/>
<line x1="275.3" y1="603.4" x2="296.3" y2="603.4" stroke="#000" stroke-width="1.4"/>
<line x1="275.3" y1="627" x2="296.3" y2="627" stroke="#000" stroke-width="1.4"/>
<circle cx="285.8" cy="596.8" r="3.3" fill="#000"/>
<circle cx="267.6" cy="612.5" r="3.3" fill="#000"/>
<circle cx="304" cy="614.2" r="3.3" fill="#000"/>
<circle cx="279.9" cy="616.6" r="3.3" fill="#000"/>
<circle cx="292.1" cy="619.1" r="3.3" fill="#000"/>
<circle cx="285.8" cy="633.6" r="3.3" fill="#000"/>
<line x1="103.2" y1="467" x2="156.3" y2="467" stroke="#111" stroke-width="1.4"/>
<text transform="translate(107.94,462.33) scale(0.9070,1.1398)" font-family="'DejaVu Sans', sans-serif" font-size="20" font-weight="bold" letter-spacing="2.24" fill="#000" stroke="#000" stroke-width="0.4" stroke-linejoin="round">****</text>
<line x1="159.3" y1="457" x2="213.5" y2="457" stroke="#111" stroke-width="1.4"/>
<text transform="translate(171.24,451.49) scale(0.9046,1.0968)" font-family="'DejaVu Sans', sans-serif" font-size="20" font-weight="bold" letter-spacing="2.24" fill="#000" stroke="#000" stroke-width="0.4" stroke-linejoin="round">***</text>
<line x1="155.7" y1="480.5" x2="293.8" y2="480.5" stroke="#111" stroke-width="1.4"/>
<text transform="translate(202.94,475.63) scale(0.9070,1.1398)" font-family="'DejaVu Sans', sans-serif" font-size="20" font-weight="bold" letter-spacing="2.24" fill="#000" stroke="#000" stroke-width="0.4" stroke-linejoin="round">****</text>
<line x1="96" y1="642.6" x2="96" y2="650.7" stroke="#1c1c1c" stroke-width="1.4"/>
<line x1="159.3" y1="642.6" x2="159.3" y2="650.7" stroke="#1c1c1c" stroke-width="1.4"/>
<line x1="222.7" y1="642.6" x2="222.7" y2="650.7" stroke="#1c1c1c" stroke-width="1.4"/>
<line x1="285.8" y1="642.6" x2="285.8" y2="650.7" stroke="#1c1c1c" stroke-width="1.4"/>
<text transform="translate(80.05,674.4) scale(0.8655,1)" font-family="'Liberation Sans', sans-serif" font-size="24.27" fill="#000" stroke="#000" stroke-width="0.4" stroke-linejoin="round">Ctrl</text>
<text transform="translate(133.09,674.4) scale(0.8517,1)" font-family="'Liberation Sans', sans-serif" font-size="24.27" fill="#000" stroke="#000" stroke-width="0.4" stroke-linejoin="round">RSL3</text>
<text transform="translate(195.43,674.4) scale(0.8341,1)" font-family="'Liberation Sans', sans-serif" font-size="24.27" fill="#000" stroke="#000" stroke-width="0.4" stroke-linejoin="round">FER1</text>
<text transform="translate(265.87,674.4) scale(0.8656,1)" font-family="'Liberation Sans', sans-serif" font-size="24.27" fill="#000" stroke="#000" stroke-width="0.4" stroke-linejoin="round">Mac</text>
<rect x="192" y="674.9" width="109.5" height="5.9" fill="#ff0000"/>
<text transform="translate(222.28,705.5) scale(0.8908,1)" font-family="'Liberation Sans', sans-serif" font-size="19.33" fill="#000" stroke="#000" stroke-width="0.25" stroke-linejoin="round">RSL3</text>
<line x1="357.9" y1="430.7" x2="626.9" y2="430.7" stroke="#1c1c1c" stroke-width="1.4"/>
<line x1="357.9" y1="639.5" x2="626.9" y2="639.5" stroke="#1c1c1c" stroke-width="1.4"/>
<line x1="626.2" y1="430.7" x2="626.2" y2="639.5" stroke="#1c1c1c" stroke-width="1.4"/>
<line x1="358.6" y1="430.7" x2="358.6" y2="639.5" stroke="#1c1c1c" stroke-width="1.4"/>
<line x1="351.5" y1="430.7" x2="358.6" y2="430.7" stroke="#1c1c1c" stroke-width="1.4"/>
<line x1="351.5" y1="483" x2="358.6" y2="483" stroke="#1c1c1c" stroke-width="1.4"/>
<line x1="351.5" y1="535.1" x2="358.6" y2="535.1" stroke="#1c1c1c" stroke-width="1.4"/>
<line x1="351.5" y1="587" x2="358.6" y2="587" stroke="#1c1c1c" stroke-width="1.4"/>
<line x1="351.5" y1="639.5" x2="358.6" y2="639.5" stroke="#1c1c1c" stroke-width="1.4"/>
<text transform="translate(330.63,436.65) scale(0.8225,1)" font-family="'Liberation Sans', sans-serif" font-size="17.3" fill="#000" stroke="#000" stroke-width="0.3" stroke-linejoin="round">0.8</text>
<text transform="translate(330.63,488.95) scale(0.8225,1)" font-family="'Liberation Sans', sans-serif" font-size="17.3" fill="#000" stroke="#000" stroke-width="0.3" stroke-linejoin="round">0.6</text>
<text transform="translate(330.42,541.05) scale(0.8225,1)" font-family="'Liberation Sans', sans-serif" font-size="17.3" fill="#000" stroke="#000" stroke-width="0.3" stroke-linejoin="round">0.4</text>
<text transform="translate(330.74,592.95) scale(0.8225,1)" font-family="'Liberation Sans', sans-serif" font-size="17.3" fill="#000" stroke="#000" stroke-width="0.3" stroke-linejoin="round">0.2</text>
<text transform="translate(330.56,645.45) scale(0.8225,1)" font-family="'Liberation Sans', sans-serif" font-size="17.3" fill="#000" stroke="#000" stroke-width="0.3" stroke-linejoin="round">0.0</text>
<text transform="translate(443.41,403.9) scale(0.9353,1)" font-family="'Liberation Sans', sans-serif" font-size="33.58" fill="#000" stroke="#000" stroke-width="0.25" stroke-linejoin="round">BeWo</text>
<rect x="379" y="591.5" width="41.3" height="48" fill="#000"/>
<rect x="440.3" y="477.3" width="41.7" height="162.2" fill="#ff0000"/>
<rect x="502" y="574.1" width="41.9" height="65.4" fill="#ff6600"/>
<rect x="563.9" y="535.5" width="41.3" height="104" fill="#0000ff"/>
<line x1="399.7" y1="587" x2="399.7" y2="591.5" stroke="#000" stroke-width="1.8"/>
<line x1="389.2" y1="587" x2="410.1" y2="587" stroke="#000" stroke-width="1.8"/>
<ellipse cx="382.5" cy="589.5" rx="3.65" ry="4.37" fill="#000"/>
<ellipse cx="393.9" cy="585.4" rx="3.65" ry="4.37" fill="#000"/>
<ellipse cx="405.2" cy="591.9" rx="3.65" ry="4.37" fill="#000"/>
<ellipse cx="416.6" cy="591.1" rx="3.65" ry="4.37" fill="#000"/>
<line x1="461.2" y1="469.3" x2="461.2" y2="485.8" stroke="#000" stroke-width="2"/>
<line x1="450.7" y1="469.3" x2="471.7" y2="469.3" stroke="#000" stroke-width="2"/>
<line x1="450.7" y1="485.8" x2="471.7" y2="485.8" stroke="#000" stroke-width="2"/>
<ellipse cx="444.2" cy="470.5" rx="3.85" ry="4.6" fill="#000"/>
<ellipse cx="478.1" cy="472.2" rx="3.85" ry="4.6" fill="#000"/>
<ellipse cx="455.6" cy="477.7" rx="3.85" ry="4.6" fill="#000"/>
<ellipse cx="466.9" cy="478.1" rx="3.85" ry="4.6" fill="#000"/>
<ellipse cx="461.2" cy="490.7" rx="3.85" ry="4.6" fill="#000"/>
<line x1="522.8" y1="564.9" x2="522.8" y2="582.3" stroke="#000" stroke-width="2"/>
<line x1="512.3" y1="564.9" x2="533.3" y2="564.9" stroke="#000" stroke-width="2"/>
<line x1="512.3" y1="582.3" x2="533.3" y2="582.3" stroke="#000" stroke-width="2"/>
<ellipse cx="505.9" cy="561.9" rx="3.85" ry="4.6" fill="#000"/>
<ellipse cx="539.8" cy="569.6" rx="3.85" ry="4.6" fill="#000"/>
<ellipse cx="522.8" cy="575.8" rx="3.85" ry="4.6" fill="#000"/>
<ellipse cx="505.9" cy="583.9" rx="3.85" ry="4.6" fill="#000"/>
<ellipse cx="539.8" cy="579.2" rx="3.85" ry="4.6" fill="#000"/>
<line x1="584.3" y1="529.6" x2="584.3" y2="541.4" stroke="#000" stroke-width="2"/>
<line x1="573.8" y1="529.6" x2="594.8" y2="529.6" stroke="#000" stroke-width="2"/>
<line x1="573.8" y1="541.4" x2="594.8" y2="541.4" stroke="#000" stroke-width="2"/>
<ellipse cx="567.6" cy="529.4" rx="3.85" ry="4.6" fill="#000"/>
<ellipse cx="601.3" cy="531.2" rx="3.85" ry="4.6" fill="#000"/>
<ellipse cx="584.3" cy="534.3" rx="3.85" ry="4.6" fill="#000"/>
<ellipse cx="567.6" cy="541.8" rx="3.85" ry="4.6" fill="#000"/>
<ellipse cx="601.3" cy="541.4" rx="3.85" ry="4.6" fill="#000"/>
<line x1="400.5" y1="466.8" x2="461.8" y2="466.8" stroke="#111" stroke-width="1.4"/>
<text transform="translate(410.95,463.95) scale(0.8776,1.0538)" font-family="'DejaVu Sans', sans-serif" font-size="20" font-weight="bold" letter-spacing="2.24" fill="#000" stroke="#000" stroke-width="0.4" stroke-linejoin="round">****</text>
<line x1="462.4" y1="454.6" x2="522.8" y2="454.6" stroke="#111" stroke-width="1.4"/>
<text transform="translate(472.05,451.89) scale(0.8818,1.0968)" font-family="'DejaVu Sans', sans-serif" font-size="20" font-weight="bold" letter-spacing="2.24" fill="#000" stroke="#000" stroke-width="0.4" stroke-linejoin="round">****</text>
<line x1="461.8" y1="459.5" x2="583.9" y2="459.5" stroke="#111" stroke-width="1.4"/>
<line x1="399.7" y1="639.5" x2="399.7" y2="648.1" stroke="#1c1c1c" stroke-width="1.4"/>
<line x1="461.2" y1="639.5" x2="461.2" y2="648.1" stroke="#1c1c1c" stroke-width="1.4"/>
<line x1="522.8" y1="639.5" x2="522.8" y2="648.1" stroke="#1c1c1c" stroke-width="1.4"/>
<line x1="584.3" y1="639.5" x2="584.3" y2="648.1" stroke="#1c1c1c" stroke-width="1.4"/>
<text transform="translate(383.67,671.4) scale(0.8609,1)" font-family="'Liberation Sans', sans-serif" font-size="23.84" fill="#000" stroke="#000" stroke-width="0.4" stroke-linejoin="round">Ctrl</text>
<text transform="translate(436.05,671.4) scale(0.8408,1)" font-family="'Liberation Sans', sans-serif" font-size="23.84" fill="#000" stroke="#000" stroke-width="0.4" stroke-linejoin="round">RSL3</text>
<text transform="translate(496.9,671.4) scale(0.8131,1)" font-family="'Liberation Sans', sans-serif" font-size="23.84" fill="#000" stroke="#000" stroke-width="0.4" stroke-linejoin="round">FER1</text>
<text transform="translate(564.7,671.4) scale(0.8649,1)" font-family="'Liberation Sans', sans-serif" font-size="23.84" fill="#000" stroke="#000" stroke-width="0.4" stroke-linejoin="round">Mac</text>
<rect x="492" y="674.9" width="109.1" height="5.9" fill="#ff0000"/>
<text transform="translate(522.08,705.5) scale(0.8887,1)" font-family="'Liberation Sans', sans-serif" font-size="19.33" fill="#000" stroke="#000" stroke-width="0.25" stroke-linejoin="round">RSL3</text>
<line x1="666.7" y1="430.7" x2="935.5" y2="430.7" stroke="#1c1c1c" stroke-width="1.4"/>
<line x1="666.7" y1="639.5" x2="935.5" y2="639.5" stroke="#1c1c1c" stroke-width="1.4"/>
<line x1="934.8" y1="430.7" x2="934.8" y2="639.5" stroke="#1c1c1c" stroke-width="1.4"/>
<line x1="667.4" y1="430.7" x2="667.4" y2="639.5" stroke="#1c1c1c" stroke-width="1.4"/>
<line x1="659.9" y1="430.7" x2="667.4" y2="430.7" stroke="#1c1c1c" stroke-width="1.4"/>
<line x1="659.9" y1="483" x2="667.4" y2="483" stroke="#1c1c1c" stroke-width="1.4"/>
<line x1="659.9" y1="535.1" x2="667.4" y2="535.1" stroke="#1c1c1c" stroke-width="1.4"/>
<line x1="659.9" y1="587" x2="667.4" y2="587" stroke="#1c1c1c" stroke-width="1.4"/>
<line x1="659.9" y1="639.5" x2="667.4" y2="639.5" stroke="#1c1c1c" stroke-width="1.4"/>
<text transform="translate(639.24,436.65) scale(0.8044,1)" font-family="'Liberation Sans', sans-serif" font-size="17.3" fill="#000" stroke="#000" stroke-width="0.3" stroke-linejoin="round">0.4</text>
<text transform="translate(639.45,488.95) scale(0.8044,1)" font-family="'Liberation Sans', sans-serif" font-size="17.3" fill="#000" stroke="#000" stroke-width="0.3" stroke-linejoin="round">0.3</text>
<text transform="translate(639.56,541.05) scale(0.8044,1)" font-family="'Liberation Sans', sans-serif" font-size="17.3" fill="#000" stroke="#000" stroke-width="0.3" stroke-linejoin="round">0.2</text>
<text transform="translate(639.52,592.95) scale(0.8044,1)" font-family="'Liberation Sans', sans-serif" font-size="17.3" fill="#000" stroke="#000" stroke-width="0.3" stroke-linejoin="round">0.1</text>
<text transform="translate(639.38,645.45) scale(0.8044,1)" font-family="'Liberation Sans', sans-serif" font-size="17.3" fill="#000" stroke="#000" stroke-width="0.3" stroke-linejoin="round">0.0</text>
<text transform="translate(755.39,404.3) scale(0.9643,1)" font-family="'Liberation Sans', sans-serif" font-size="33.58" fill="#000" stroke="#000" stroke-width="0.25" stroke-linejoin="round">U87</text>
<rect x="687.8" y="559.2" width="41.1" height="80.3" fill="#000"/>
<rect x="749.1" y="493.2" width="41.7" height="146.3" fill="#ff0000"/>
<rect x="811" y="567.5" width="41.5" height="72" fill="#ff6600"/>
<rect x="872.3" y="596.6" width="41.5" height="42.9" fill="#0000ff"/>
<line x1="708.3" y1="540.8" x2="708.3" y2="559.2" stroke="#000" stroke-width="1.8"/>
<line x1="698" y1="540.8" x2="718.6" y2="540.8" stroke="#000" stroke-width="1.8"/>
<ellipse cx="708.3" cy="534.3" rx="3.85" ry="4.6" fill="#000"/>
<ellipse cx="708.3" cy="546.3" rx="3.85" ry="4.6" fill="#000"/>
<line x1="770" y1="471.3" x2="770" y2="515.5" stroke="#000" stroke-width="1.9"/>
<line x1="759.5" y1="471.3" x2="780.5" y2="471.3" stroke="#000" stroke-width="1.9"/>
<line x1="759.5" y1="515.5" x2="780.5" y2="515.5" stroke="#000" stroke-width="1.9"/>
<ellipse cx="770" cy="461.1" rx="3.85" ry="4.6" fill="#000"/>
<ellipse cx="777.1" cy="486" rx="3.85" ry="4.6" fill="#000"/>
<ellipse cx="762.8" cy="494" rx="3.85" ry="4.6" fill="#000"/>
<ellipse cx="770" cy="509.1" rx="3.85" ry="4.6" fill="#000"/>
<ellipse cx="770" cy="518.3" rx="3.85" ry="4.6" fill="#000"/>
<line x1="831.4" y1="557.6" x2="831.4" y2="577.6" stroke="#000" stroke-width="2"/>
<line x1="820.9" y1="557.6" x2="841.9" y2="557.6" stroke="#000" stroke-width="2"/>
<line x1="820.9" y1="577.6" x2="841.9" y2="577.6" stroke="#000" stroke-width="2"/>
<ellipse cx="831.4" cy="551.3" rx="3.85" ry="4.6" fill="#000"/>
<ellipse cx="814.7" cy="569" rx="3.85" ry="4.6" fill="#000"/>
<ellipse cx="831.4" cy="569.4" rx="3.85" ry="4.6" fill="#000"/>
<ellipse cx="848.8" cy="571.2" rx="3.85" ry="4.6" fill="#000"/>
<ellipse cx="814.7" cy="577.8" rx="3.85" ry="4.6" fill="#000"/>
<line x1="893.3" y1="575.6" x2="893.3" y2="618.1" stroke="#000" stroke-width="2"/>
<line x1="882.8" y1="575.6" x2="903.8" y2="575.6" stroke="#000" stroke-width="2"/>
<line x1="882.8" y1="618.1" x2="903.8" y2="618.1" stroke="#000" stroke-width="2"/>
<ellipse cx="893.3" cy="567.2" rx="3.85" ry="4.6" fill="#000"/>
<ellipse cx="893.3" cy="582.3" rx="3.85" ry="4.6" fill="#000"/>
<ellipse cx="893.3" cy="609.9" rx="3.85" ry="4.6" fill="#000"/>
<ellipse cx="876.4" cy="614" rx="3.85" ry="4.6" fill="#000"/>
<ellipse cx="910.1" cy="611.9" rx="3.85" ry="4.6" fill="#000"/>
<line x1="703.4" y1="456" x2="770.8" y2="456" stroke="#111" stroke-width="1.4"/>
<text transform="translate(722.26,453.25) scale(0.8618,1.0538)" font-family="'DejaVu Sans', sans-serif" font-size="20" font-weight="bold" letter-spacing="2.24" fill="#000" stroke="#000" stroke-width="0.4" stroke-linejoin="round">***</text>
<line x1="770.8" y1="449.7" x2="831.4" y2="449.7" stroke="#111" stroke-width="1.4"/>
<text transform="translate(786.15,447.15) scale(0.8732,1.0538)" font-family="'DejaVu Sans', sans-serif" font-size="20" font-weight="bold" letter-spacing="2.24" fill="#000" stroke="#000" stroke-width="0.4" stroke-linejoin="round">***</text>
<line x1="780" y1="471.7" x2="892.3" y2="471.7" stroke="#111" stroke-width="1.4"/>
<text transform="translate(822.55,468.93) scale(0.8860,1.0323)" font-family="'DejaVu Sans', sans-serif" font-size="20" font-weight="bold" letter-spacing="2.24" fill="#000" stroke="#000" stroke-width="0.4" stroke-linejoin="round">**</text>
<line x1="708.3" y1="639.5" x2="708.3" y2="648.1" stroke="#1c1c1c" stroke-width="1.4"/>
<line x1="770" y1="639.5" x2="770" y2="648.1" stroke="#1c1c1c" stroke-width="1.4"/>
<line x1="831.4" y1="639.5" x2="831.4" y2="648.1" stroke="#1c1c1c" stroke-width="1.4"/>
<line x1="893.3" y1="639.5" x2="893.3" y2="648.1" stroke="#1c1c1c" stroke-width="1.4"/>
<text transform="translate(692.47,671.4) scale(0.8667,1)" font-family="'Liberation Sans', sans-serif" font-size="23.84" fill="#000" stroke="#000" stroke-width="0.4" stroke-linejoin="round">Ctrl</text>
<text transform="translate(744.33,671.4) scale(0.8496,1)" font-family="'Liberation Sans', sans-serif" font-size="23.84" fill="#000" stroke="#000" stroke-width="0.4" stroke-linejoin="round">RSL3</text>
<text transform="translate(805.69,671.4) scale(0.8165,1)" font-family="'Liberation Sans', sans-serif" font-size="23.84" fill="#000" stroke="#000" stroke-width="0.4" stroke-linejoin="round">FER1</text>
<text transform="translate(873.72,671.4) scale(0.8555,1)" font-family="'Liberation Sans', sans-serif" font-size="23.84" fill="#000" stroke="#000" stroke-width="0.4" stroke-linejoin="round">Mac</text>
<rect x="793.2" y="674.9" width="109.7" height="5.9" fill="#ff0000"/>
<text transform="translate(823.48,705.5) scale(0.8908,1)" font-family="'Liberation Sans', sans-serif" font-size="19.33" fill="#000" stroke="#000" stroke-width="0.25" stroke-linejoin="round">RSL3</text>
<text transform="translate(947.11,410.69) scale(2.1111,2.0476)" font-family="'Liberation Sans', sans-serif" font-size="20" fill="#000">d</text>
<text transform="translate(973.85,570.2) rotate(-90) scale(0.9721,0.9759)" font-family="'Liberation Sans', sans-serif" font-size="20" stroke="#000" stroke-width="0.4" stroke-linejoin="round">LDH (OD)</text>
<line x1="1019.6" y1="430.9" x2="1315.7" y2="430.9" stroke="#1c1c1c" stroke-width="1.4"/>
<line x1="1019.6" y1="627.7" x2="1315.7" y2="627.7" stroke="#1c1c1c" stroke-width="1.4"/>
<line x1="1315" y1="430.9" x2="1315" y2="627.7" stroke="#1c1c1c" stroke-width="1.4"/>
<line x1="1020.3" y1="430.9" x2="1020.3" y2="627.7" stroke="#1c1c1c" stroke-width="1.4"/>
<line x1="1012" y1="431.1" x2="1020.3" y2="431.1" stroke="#1c1c1c" stroke-width="1.4"/>
<line x1="1012" y1="480.3" x2="1020.3" y2="480.3" stroke="#1c1c1c" stroke-width="1.4"/>
<line x1="1012" y1="529.6" x2="1020.3" y2="529.6" stroke="#1c1c1c" stroke-width="1.4"/>
<line x1="1012" y1="579.2" x2="1020.3" y2="579.2" stroke="#1c1c1c" stroke-width="1.4"/>
<line x1="1012" y1="627.7" x2="1020.3" y2="627.7" stroke="#1c1c1c" stroke-width="1.4"/>
<text transform="translate(983.12,438.25) scale(0.9383,1)" font-family="'Liberation Sans', sans-serif" font-size="20.78" fill="#000" stroke="#000" stroke-width="0.3" stroke-linejoin="round">0.8</text>
<text transform="translate(983.12,487.45) scale(0.9383,1)" font-family="'Liberation Sans', sans-serif" font-size="20.78" fill="#000" stroke="#000" stroke-width="0.3" stroke-linejoin="round">0.6</text>
<text transform="translate(982.83,536.75) scale(0.9383,1)" font-family="'Liberation Sans', sans-serif" font-size="20.78" fill="#000" stroke="#000" stroke-width="0.3" stroke-linejoin="round">0.4</text>
<text transform="translate(983.27,586.35) scale(0.9383,1)" font-family="'Liberation Sans', sans-serif" font-size="20.78" fill="#000" stroke="#000" stroke-width="0.3" stroke-linejoin="round">0.2</text>
<text transform="translate(983.02,634.85) scale(0.9383,1)" font-family="'Liberation Sans', sans-serif" font-size="20.78" fill="#000" stroke="#000" stroke-width="0.3" stroke-linejoin="round">0.0</text>
<text transform="translate(1150.32,410.1) scale(0.9367,1)" font-family="'Liberation Sans', sans-serif" font-size="33.58" fill="#000" stroke="#000" stroke-width="0.25" stroke-linejoin="round">A375</text>
<rect x="1042.7" y="589" width="45.4" height="38.7" fill="#000"/>
<rect x="1111.2" y="538.2" width="45.1" height="89.5" fill="#ff0000"/>
<rect x="1179" y="570" width="45.1" height="57.7" fill="#ff6600"/>
<rect x="1247" y="611.3" width="45.4" height="16.4" fill="#5858f8"/>
<line x1="1065.4" y1="587" x2="1065.4" y2="589.6" stroke="#000" stroke-width="1.4"/>
<line x1="1054.15" y1="587" x2="1076.65" y2="587" stroke="#000" stroke-width="1.4"/>
<line x1="1054.15" y1="589.6" x2="1076.65" y2="589.6" stroke="#000" stroke-width="1.4"/>
<circle cx="1065.4" cy="587" r="4.2" fill="#000"/>
<circle cx="1046.4" cy="590.5" r="4.2" fill="#000"/>
<circle cx="1084" cy="589.5" r="4.2" fill="#000"/>
<line x1="1133.6" y1="534.9" x2="1133.6" y2="542" stroke="#000" stroke-width="1.4"/>
<line x1="1122.35" y1="534.9" x2="1144.85" y2="534.9" stroke="#000" stroke-width="1.4"/>
<line x1="1122.35" y1="542" x2="1144.85" y2="542" stroke="#000" stroke-width="1.4"/>
<circle cx="1133.6" cy="534.1" r="4.2" fill="#000"/>
<circle cx="1114.6" cy="541" r="4.2" fill="#000"/>
<circle cx="1152.2" cy="541" r="4.2" fill="#000"/>
<line x1="1201.7" y1="566.3" x2="1201.7" y2="573.3" stroke="#000" stroke-width="1.4"/>
<line x1="1190.45" y1="566.3" x2="1212.95" y2="566.3" stroke="#000" stroke-width="1.4"/>
<line x1="1190.45" y1="573.3" x2="1212.95" y2="573.3" stroke="#000" stroke-width="1.4"/>
<circle cx="1201.7" cy="566.4" r="4.2" fill="#000"/>
<circle cx="1182.7" cy="573.6" r="4.2" fill="#000"/>
<circle cx="1220.1" cy="569.7" r="4.2" fill="#000"/>
<line x1="1269.5" y1="605.2" x2="1269.5" y2="617.2" stroke="#000" stroke-width="1.4"/>
<line x1="1258.25" y1="605.2" x2="1280.75" y2="605.2" stroke="#000" stroke-width="1.4"/>
<line x1="1258.25" y1="617.2" x2="1280.75" y2="617.2" stroke="#000" stroke-width="1.4"/>
<circle cx="1269.5" cy="598.9" r="3.9" fill="#000"/>
<circle cx="1250.5" cy="609.5" r="3.9" fill="#000"/>
<circle cx="1258.3" cy="611.3" r="3.9" fill="#000"/>
<circle cx="1265.8" cy="613.6" r="3.9" fill="#000"/>
<circle cx="1273.2" cy="612.3" r="3.9" fill="#000"/>
<circle cx="1280.7" cy="607.8" r="3.9" fill="#000"/>
<circle cx="1288.3" cy="612.5" r="3.9" fill="#000"/>
<circle cx="1250.5" cy="618.7" r="3.9" fill="#000"/>
<circle cx="1280.7" cy="619.3" r="3.9" fill="#000"/>
<line x1="1059.7" y1="522.6" x2="1130.8" y2="522.6" stroke="#111" stroke-width="1.4"/>
<text transform="translate(1072.02,518.89) scale(0.9614,1.0968)" font-family="'DejaVu Sans', sans-serif" font-size="20" font-weight="bold" letter-spacing="2.24" fill="#000" stroke="#000" stroke-width="0.4" stroke-linejoin="round">****</text>
<line x1="1133.2" y1="487.9" x2="1271.1" y2="487.9" stroke="#111" stroke-width="1.4"/>
<text transform="translate(1178.61,483.99) scale(0.9677,1.0968)" font-family="'DejaVu Sans', sans-serif" font-size="20" font-weight="bold" letter-spacing="2.24" fill="#000" stroke="#000" stroke-width="0.4" stroke-linejoin="round">****</text>
<line x1="1134.1" y1="510.2" x2="1205.1" y2="510.2" stroke="#111" stroke-width="1.4"/>
<text transform="translate(1152.72,506.51) scale(0.9616,1.0645)" font-family="'DejaVu Sans', sans-serif" font-size="20" font-weight="bold" letter-spacing="2.24" fill="#000" stroke="#000" stroke-width="0.4" stroke-linejoin="round">***</text>
<line x1="1065.4" y1="627.7" x2="1065.4" y2="635.8" stroke="#1c1c1c" stroke-width="1.4"/>
<line x1="1133.6" y1="627.7" x2="1133.6" y2="635.8" stroke="#1c1c1c" stroke-width="1.4"/>
<line x1="1201.7" y1="627.7" x2="1201.7" y2="635.8" stroke="#1c1c1c" stroke-width="1.4"/>
<line x1="1269.5" y1="627.7" x2="1269.5" y2="635.8" stroke="#1c1c1c" stroke-width="1.4"/>
<text transform="translate(1048.18,657.5) scale(0.9543,1)" font-family="'Liberation Sans', sans-serif" font-size="23.55" fill="#000" stroke="#000" stroke-width="0.4" stroke-linejoin="round">Ctrl</text>
<text transform="translate(1105.69,657.5) scale(0.9316,1)" font-family="'Liberation Sans', sans-serif" font-size="23.55" fill="#000" stroke="#000" stroke-width="0.4" stroke-linejoin="round">RSL3</text>
<text transform="translate(1172.73,657.5) scale(0.9124,1)" font-family="'Liberation Sans', sans-serif" font-size="23.55" fill="#000" stroke="#000" stroke-width="0.4" stroke-linejoin="round">FER1</text>
<text transform="translate(1241.33,657.5) scale(0.9552,1)" font-family="'Liberation Sans', sans-serif" font-size="23.55" fill="#000" stroke="#000" stroke-width="0.4" stroke-linejoin="round">hMac</text>
<rect x="1179.2" y="665.5" width="105.4" height="5.7" fill="#ff0000"/>
<text transform="translate(1201.35,699.8) scale(0.8656,1)" font-family="'Liberation Sans', sans-serif" font-size="24.56" fill="#000" stroke="#000" stroke-width="0.25" stroke-linejoin="round">RSL3</text>
<line x1="1319.8" y1="431.9" x2="1613.3" y2="431.9" stroke="#1c1c1c" stroke-width="1.4"/>
<line x1="1319.8" y1="629.7" x2="1613.3" y2="629.7" stroke="#1c1c1c" stroke-width="1.4"/>
<line x1="1612.6" y1="431.9" x2="1612.6" y2="629.7" stroke="#1c1c1c" stroke-width="1.4"/>
<line x1="1320.5" y1="431.9" x2="1320.5" y2="629.7" stroke="#1c1c1c" stroke-width="1.4"/>
<line x1="1315" y1="481.6" x2="1320.5" y2="481.6" stroke="#1c1c1c" stroke-width="1.4"/>
<line x1="1315" y1="531.2" x2="1320.5" y2="531.2" stroke="#1c1c1c" stroke-width="1.4"/>
<line x1="1315" y1="580.5" x2="1320.5" y2="580.5" stroke="#1c1c1c" stroke-width="1.4"/>
<line x1="1315" y1="629.7" x2="1320.5" y2="629.7" stroke="#1c1c1c" stroke-width="1.4"/>
<text transform="translate(1426.51,409.6) scale(0.9353,1)" font-family="'Liberation Sans', sans-serif" font-size="33.58" fill="#000" stroke="#000" stroke-width="0.25" stroke-linejoin="round">BeWo</text>
<rect x="1342.7" y="585" width="45.2" height="44.7" fill="#000"/>
<rect x="1410.1" y="476" width="45" height="153.7" fill="#ff0000"/>
<rect x="1477.1" y="567" width="45.4" height="62.7" fill="#ff6600"/>
<rect x="1544.1" y="538" width="45.8" height="91.7" fill="#5858f8"/>
<line x1="1365.4" y1="580.1" x2="1365.4" y2="585" stroke="#000" stroke-width="1.8"/>
<line x1="1354.4" y1="580.1" x2="1376.4" y2="580.1" stroke="#000" stroke-width="1.8"/>
<circle cx="1346.6" cy="581.9" r="4.2" fill="#000"/>
<circle cx="1359.3" cy="578.6" r="4.2" fill="#000"/>
<circle cx="1371.5" cy="585.4" r="4.2" fill="#000"/>
<circle cx="1383.8" cy="583.7" r="4.2" fill="#000"/>
<line x1="1432.6" y1="468.9" x2="1432.6" y2="484" stroke="#000" stroke-width="2"/>
<line x1="1421.35" y1="468.9" x2="1443.85" y2="468.9" stroke="#000" stroke-width="2"/>
<line x1="1421.35" y1="484" x2="1443.85" y2="484" stroke="#000" stroke-width="2"/>
<circle cx="1414" cy="469.5" r="4.2" fill="#000"/>
<circle cx="1451" cy="471.3" r="4.2" fill="#000"/>
<circle cx="1426.3" cy="476" r="4.2" fill="#000"/>
<circle cx="1438.7" cy="477.1" r="4.2" fill="#000"/>
<circle cx="1432.6" cy="489.3" r="4.2" fill="#000"/>
<line x1="1499.8" y1="559.4" x2="1499.8" y2="575.6" stroke="#000" stroke-width="1.4"/>
<line x1="1488.55" y1="559.4" x2="1511.05" y2="559.4" stroke="#000" stroke-width="1.4"/>
<line x1="1488.55" y1="575.6" x2="1511.05" y2="575.6" stroke="#000" stroke-width="1.4"/>
<circle cx="1481.2" cy="556.3" r="4.2" fill="#000"/>
<circle cx="1518.2" cy="563.2" r="4.2" fill="#000"/>
<circle cx="1499.8" cy="569.1" r="4.2" fill="#000"/>
<circle cx="1518.2" cy="572.6" r="4.2" fill="#000"/>
<circle cx="1481.2" cy="576.8" r="4.2" fill="#000"/>
<line x1="1567" y1="522.8" x2="1567" y2="553.2" stroke="#000" stroke-width="2"/>
<line x1="1555.75" y1="522.8" x2="1578.25" y2="522.8" stroke="#000" stroke-width="2"/>
<line x1="1555.75" y1="553.2" x2="1578.25" y2="553.2" stroke="#000" stroke-width="2"/>
<circle cx="1585.4" cy="512" r="4.2" fill="#000"/>
<circle cx="1548.4" cy="519.3" r="4.2" fill="#000"/>
<circle cx="1567" cy="524.9" r="4.2" fill="#000"/>
<circle cx="1567" cy="536.1" r="4.2" fill="#000"/>
<circle cx="1548.4" cy="540.6" r="4.2" fill="#000"/>
<circle cx="1585.4" cy="539" r="4.2" fill="#000"/>
<circle cx="1548.4" cy="549.6" r="4.2" fill="#000"/>
<circle cx="1567" cy="549.6" r="4.2" fill="#000"/>
<circle cx="1585.4" cy="549.6" r="4.2" fill="#000"/>
<circle cx="1567" cy="560.8" r="4.2" fill="#000"/>
<line x1="1371.1" y1="467" x2="1432.2" y2="467" stroke="#111" stroke-width="1.4"/>
<text transform="translate(1378.32,463.73) scale(0.9614,1.1398)" font-family="'DejaVu Sans', sans-serif" font-size="20" font-weight="bold" letter-spacing="2.24" fill="#000" stroke="#000" stroke-width="0.4" stroke-linejoin="round">****</text>
<line x1="1434.9" y1="453.2" x2="1489.8" y2="453.2" stroke="#111" stroke-width="1.4"/>
<text transform="translate(1438.91,449.95) scale(0.9635,1.1075)" font-family="'DejaVu Sans', sans-serif" font-size="20" font-weight="bold" letter-spacing="2.24" fill="#000" stroke="#000" stroke-width="0.4" stroke-linejoin="round">****</text>
<line x1="1434.6" y1="457.4" x2="1562.9" y2="457.4" stroke="#111" stroke-width="1.4"/>
<line x1="1365.4" y1="629.7" x2="1365.4" y2="637.5" stroke="#1c1c1c" stroke-width="1.4"/>
<line x1="1432.6" y1="629.7" x2="1432.6" y2="637.5" stroke="#1c1c1c" stroke-width="1.4"/>
<line x1="1499.8" y1="629.7" x2="1499.8" y2="637.5" stroke="#1c1c1c" stroke-width="1.4"/>
<line x1="1567" y1="629.7" x2="1567" y2="637.5" stroke="#1c1c1c" stroke-width="1.4"/>
<text transform="translate(1348.4,659.5) scale(0.9222,1)" font-family="'Liberation Sans', sans-serif" font-size="23.84" fill="#000" stroke="#000" stroke-width="0.4" stroke-linejoin="round">Ctrl</text>
<text transform="translate(1404.89,659.5) scale(0.9203,1)" font-family="'Liberation Sans', sans-serif" font-size="23.84" fill="#000" stroke="#000" stroke-width="0.4" stroke-linejoin="round">RSL3</text>
<text transform="translate(1471.76,659.5) scale(0.8857,1)" font-family="'Liberation Sans', sans-serif" font-size="23.84" fill="#000" stroke="#000" stroke-width="0.4" stroke-linejoin="round">FER1</text>
<text transform="translate(1539.96,659.5) scale(0.9239,1)" font-family="'Liberation Sans', sans-serif" font-size="23.84" fill="#000" stroke="#000" stroke-width="0.4" stroke-linejoin="round">hMac</text>
<rect x="1475.5" y="663.6" width="105" height="5.7" fill="#ff0000"/>
<text transform="translate(1491.75,696.7) scale(0.8639,1)" font-family="'Liberation Sans', sans-serif" font-size="24.56" fill="#000" stroke="#000" stroke-width="0.25" stroke-linejoin="round">RSL3</text>
<line x1="1614.9" y1="431.5" x2="1908.2" y2="431.5" stroke="#1c1c1c" stroke-width="1.4"/>
<line x1="1614.9" y1="629.3" x2="1908.2" y2="629.3" stroke="#1c1c1c" stroke-width="1.4"/>
<line x1="1907.5" y1="431.5" x2="1907.5" y2="629.3" stroke="#1c1c1c" stroke-width="1.4"/>
<line x1="1615.6" y1="431.5" x2="1615.6" y2="629.3" stroke="#1c1c1c" stroke-width="1.4"/>
<text transform="translate(1729.54,409.6) scale(0.9835,1)" font-family="'Liberation Sans', sans-serif" font-size="33.58" fill="#000" stroke="#000" stroke-width="0.25" stroke-linejoin="round">U87</text>
<rect x="1637.3" y="553.1" width="45.5" height="76.2" fill="#000"/>
<rect x="1705.1" y="491.2" width="44.9" height="138.1" fill="#ff0000"/>
<rect x="1772.1" y="561.2" width="45.8" height="68.1" fill="#ff6600"/>
<rect x="1839.5" y="558.1" width="45.4" height="71.2" fill="#5858f8"/>
<line x1="1659.9" y1="535.7" x2="1659.9" y2="553.1" stroke="#000" stroke-width="1.8"/>
<line x1="1648.7" y1="535.7" x2="1671.1" y2="535.7" stroke="#000" stroke-width="1.8"/>
<circle cx="1659.9" cy="530" r="4.2" fill="#000"/>
<circle cx="1659.9" cy="541" r="4.2" fill="#000"/>
<line x1="1727.4" y1="470.3" x2="1727.4" y2="511.8" stroke="#000" stroke-width="2"/>
<line x1="1716.15" y1="470.3" x2="1738.65" y2="470.3" stroke="#000" stroke-width="2"/>
<line x1="1716.15" y1="511.8" x2="1738.65" y2="511.8" stroke="#000" stroke-width="2"/>
<circle cx="1727.4" cy="460.7" r="4.2" fill="#000"/>
<circle cx="1735.1" cy="484" r="4.2" fill="#000"/>
<circle cx="1719.6" cy="491.4" r="4.2" fill="#000"/>
<circle cx="1727.4" cy="505.7" r="4.2" fill="#000"/>
<circle cx="1727.4" cy="514.6" r="4.2" fill="#000"/>
<line x1="1794.8" y1="551.8" x2="1794.8" y2="570.2" stroke="#000" stroke-width="1.4"/>
<line x1="1783.55" y1="551.8" x2="1806.05" y2="551.8" stroke="#000" stroke-width="1.4"/>
<line x1="1783.55" y1="570.2" x2="1806.05" y2="570.2" stroke="#000" stroke-width="1.4"/>
<circle cx="1794.8" cy="545.9" r="4.2" fill="#000"/>
<circle cx="1776.2" cy="562.3" r="4.2" fill="#000"/>
<circle cx="1794.8" cy="562.9" r="4.2" fill="#000"/>
<circle cx="1813.4" cy="565.1" r="4.2" fill="#000"/>
<circle cx="1776.2" cy="570.8" r="4.2" fill="#000"/>
<line x1="1862.2" y1="525.1" x2="1862.2" y2="591.5" stroke="#000" stroke-width="2"/>
<line x1="1850.95" y1="525.1" x2="1873.45" y2="525.1" stroke="#000" stroke-width="2"/>
<line x1="1850.95" y1="591.5" x2="1873.45" y2="591.5" stroke="#000" stroke-width="2"/>
<circle cx="1862.2" cy="510.8" r="4.2" fill="#000"/>
<circle cx="1862.2" cy="536.6" r="4.2" fill="#000"/>
<circle cx="1862.2" cy="579.9" r="4.2" fill="#000"/>
<circle cx="1880.8" cy="579.4" r="4.2" fill="#000"/>
<circle cx="1843.6" cy="585.8" r="4.2" fill="#000"/>
<line x1="1633.6" y1="465" x2="1680" y2="465" stroke="#111" stroke-width="1.4"/>
<text transform="translate(1639.71,461.09) scale(0.9673,1.0968)" font-family="'DejaVu Sans', sans-serif" font-size="20" font-weight="bold" letter-spacing="2.24" fill="#000" stroke="#000" stroke-width="0.4" stroke-linejoin="round">***</text>
<line x1="1730" y1="451.9" x2="1852.6" y2="451.9" stroke="#111" stroke-width="1.4"/>
<text transform="translate(1780.31,447.55) scale(0.9755,1.0538)" font-family="'DejaVu Sans', sans-serif" font-size="20" font-weight="bold" letter-spacing="2.24" fill="#000" stroke="#000" stroke-width="0.4" stroke-linejoin="round">**</text>
<line x1="1729.6" y1="473" x2="1774.5" y2="473" stroke="#111" stroke-width="1.4"/>
<text transform="translate(1734.32,468.93) scale(0.9616,1.0323)" font-family="'DejaVu Sans', sans-serif" font-size="20" font-weight="bold" letter-spacing="2.24" fill="#000" stroke="#000" stroke-width="0.4" stroke-linejoin="round">***</text>
<line x1="1659.9" y1="629.3" x2="1659.9" y2="637.5" stroke="#1c1c1c" stroke-width="1.4"/>
<line x1="1727.4" y1="629.3" x2="1727.4" y2="637.5" stroke="#1c1c1c" stroke-width="1.4"/>
<line x1="1794.8" y1="629.3" x2="1794.8" y2="637.5" stroke="#1c1c1c" stroke-width="1.4"/>
<line x1="1862.2" y1="629.3" x2="1862.2" y2="637.5" stroke="#1c1c1c" stroke-width="1.4"/>
<text transform="translate(1643.1,659.5) scale(0.9251,1)" font-family="'Liberation Sans', sans-serif" font-size="23.84" fill="#000" stroke="#000" stroke-width="0.4" stroke-linejoin="round">Ctrl</text>
<text transform="translate(1699.8,659.5) scale(0.9167,1)" font-family="'Liberation Sans', sans-serif" font-size="23.84" fill="#000" stroke="#000" stroke-width="0.4" stroke-linejoin="round">RSL3</text>
<text transform="translate(1766.65,659.5) scale(0.8909,1)" font-family="'Liberation Sans', sans-serif" font-size="23.84" fill="#000" stroke="#000" stroke-width="0.4" stroke-linejoin="round">FER1</text>
<text transform="translate(1834.65,659.5) scale(0.9311,1)" font-family="'Liberation Sans', sans-serif" font-size="23.84" fill="#000" stroke="#000" stroke-width="0.4" stroke-linejoin="round">hMac</text>
<rect x="1771.5" y="661.6" width="105.2" height="5.9" fill="#ff0000"/>
<text transform="translate(1792.64,693.2) scale(0.8673,1)" font-family="'Liberation Sans', sans-serif" font-size="24.56" fill="#000" stroke="#000" stroke-width="0.25" stroke-linejoin="round">RSL3</text>
<text transform="translate(4,745.01) scale(2.0000,1.9635)" font-family="'Liberation Sans', sans-serif" font-size="20" fill="#000">e</text>
<text transform="translate(25.26,959.87) rotate(-90) scale(1.1305,1.2041)" font-family="'Liberation Sans', sans-serif" font-size="20" stroke="#000" stroke-width="0.4" stroke-linejoin="round">Relative Survival</text>
<line x1="68.8" y1="770.3" x2="382" y2="770.3" stroke="#1c1c1c" stroke-width="1.4"/>
<line x1="68.8" y1="980.6" x2="382" y2="980.6" stroke="#1c1c1c" stroke-width="1.4"/>
<line x1="381.3" y1="770.3" x2="381.3" y2="980.6" stroke="#1c1c1c" stroke-width="1.4"/>
<line x1="69.5" y1="770.3" x2="69.5" y2="980.6" stroke="#1c1c1c" stroke-width="1.4"/>
<line x1="61.3" y1="770.7" x2="69.5" y2="770.7" stroke="#1c1c1c" stroke-width="1.4"/>
<line x1="61.3" y1="840.6" x2="69.5" y2="840.6" stroke="#1c1c1c" stroke-width="1.4"/>
<line x1="61.3" y1="910.6" x2="69.5" y2="910.6" stroke="#1c1c1c" stroke-width="1.4"/>
<line x1="61.3" y1="980.8" x2="69.5" y2="980.8" stroke="#1c1c1c" stroke-width="1.4"/>
<text transform="translate(37.6,776.75) scale(0.9098,1)" font-family="'Liberation Sans', sans-serif" font-size="17.59" fill="#000" stroke="#000" stroke-width="0.3" stroke-linejoin="round">1.5</text>
<text transform="translate(37.56,846.65) scale(0.9098,1)" font-family="'Liberation Sans', sans-serif" font-size="17.59" fill="#000" stroke="#000" stroke-width="0.3" stroke-linejoin="round">1.0</text>
<text transform="translate(37.6,916.65) scale(0.9098,1)" font-family="'Liberation Sans', sans-serif" font-size="17.59" fill="#000" stroke="#000" stroke-width="0.3" stroke-linejoin="round">0.5</text>
<text transform="translate(37.56,986.85) scale(0.9098,1)" font-family="'Liberation Sans', sans-serif" font-size="17.59" fill="#000" stroke="#000" stroke-width="0.3" stroke-linejoin="round">0.0</text>
<text transform="translate(178.81,749.6) scale(0.9353,1)" font-family="'Liberation Sans', sans-serif" font-size="33.58" fill="#000" stroke="#000" stroke-width="0.25" stroke-linejoin="round">BeWo</text>
<rect x="93.4" y="840.6" width="47.8" height="140" fill="#000"/>
<rect x="165.1" y="909" width="48.2" height="71.6" fill="#ff0000"/>
<rect x="237.2" y="862" width="48" height="118.6" fill="#ff8000"/>
<rect x="309.1" y="844.2" width="48" height="136.4" fill="#0000c0"/>
<line x1="117.1" y1="826.7" x2="117.1" y2="840.6" stroke="#000" stroke-width="1.5"/>
<line x1="105.2" y1="826.7" x2="129.1" y2="826.7" stroke="#000" stroke-width="1.5"/>
<circle cx="117.1" cy="827.1" r="2.4" fill="#000"/>
<circle cx="117.1" cy="839.7" r="2.4" fill="#000"/>
<line x1="189.2" y1="902.9" x2="189.2" y2="914.9" stroke="#000" stroke-width="1.5"/>
<line x1="177.2" y1="902.9" x2="201.2" y2="902.9" stroke="#000" stroke-width="1.5"/>
<line x1="177.2" y1="914.9" x2="201.2" y2="914.9" stroke="#000" stroke-width="1.5"/>
<circle cx="189.2" cy="904.7" r="2.4" fill="#000"/>
<circle cx="189.2" cy="913" r="2.4" fill="#000"/>
<line x1="261.3" y1="841.8" x2="261.3" y2="881.9" stroke="#000" stroke-width="1.5"/>
<line x1="249.3" y1="841.8" x2="273.3" y2="841.8" stroke="#000" stroke-width="1.5"/>
<line x1="249.3" y1="881.9" x2="273.3" y2="881.9" stroke="#000" stroke-width="1.5"/>
<circle cx="261.3" cy="839.3" r="2.4" fill="#000"/>
<circle cx="261.3" cy="871" r="2.4" fill="#000"/>
<circle cx="261.3" cy="876.2" r="2.4" fill="#000"/>
<line x1="333.2" y1="836.1" x2="333.2" y2="852.2" stroke="#000" stroke-width="1.5"/>
<line x1="321.2" y1="836.1" x2="345.2" y2="836.1" stroke="#000" stroke-width="1.5"/>
<line x1="321.2" y1="852.2" x2="345.2" y2="852.2" stroke="#000" stroke-width="1.5"/>
<circle cx="333.2" cy="835.6" r="2.4" fill="#000"/>
<circle cx="333.2" cy="846.1" r="2.4" fill="#000"/>
<circle cx="333.2" cy="851.2" r="2.4" fill="#000"/>
<line x1="117.5" y1="818.5" x2="190.6" y2="818.5" stroke="#111" stroke-width="1.4"/>
<text transform="translate(141.99,813.99) scale(1.0337,1.0968)" font-family="'DejaVu Sans', sans-serif" font-size="20" font-weight="bold" letter-spacing="2.24" fill="#000" stroke="#000" stroke-width="0.4" stroke-linejoin="round">**</text>
<line x1="183.9" y1="795.4" x2="331.4" y2="795.4" stroke="#111" stroke-width="1.4"/>
<text transform="translate(246.19,790.89) scale(1.0337,1.0968)" font-family="'DejaVu Sans', sans-serif" font-size="20" font-weight="bold" letter-spacing="2.24" fill="#000" stroke="#000" stroke-width="0.4" stroke-linejoin="round">**</text>
<line x1="190.4" y1="830.7" x2="263.1" y2="830.7" stroke="#111" stroke-width="1.4"/>
<text transform="translate(221.89,826.59) scale(1.0363,1.0968)" font-family="'DejaVu Sans', sans-serif" font-size="20" font-weight="bold" letter-spacing="2.24" fill="#000" stroke="#000" stroke-width="0.4" stroke-linejoin="round">*</text>
<line x1="117.1" y1="980.6" x2="117.1" y2="989" stroke="#1c1c1c" stroke-width="1.4"/>
<line x1="189.2" y1="980.6" x2="189.2" y2="989" stroke="#1c1c1c" stroke-width="1.4"/>
<line x1="261.3" y1="980.6" x2="261.3" y2="989" stroke="#1c1c1c" stroke-width="1.4"/>
<line x1="333.2" y1="980.6" x2="333.2" y2="989" stroke="#1c1c1c" stroke-width="1.4"/>
<text transform="translate(98.5,1012.6) scale(0.9435,1)" font-family="'Liberation Sans', sans-serif" font-size="25.44" fill="#000" stroke="#000" stroke-width="0.4" stroke-linejoin="round">Ctrl</text>
<text transform="translate(170.03,1012.6) scale(0.9233,1)" font-family="'Liberation Sans', sans-serif" font-size="25.44" fill="#000" stroke="#000" stroke-width="0.4" stroke-linejoin="round">IKE</text>
<text transform="translate(231.03,1012.6) scale(0.8933,1)" font-family="'Liberation Sans', sans-serif" font-size="25.44" fill="#000" stroke="#000" stroke-width="0.4" stroke-linejoin="round">FER1</text>
<text transform="translate(310.63,1012.6) scale(0.9387,1)" font-family="'Liberation Sans', sans-serif" font-size="25.44" fill="#000" stroke="#000" stroke-width="0.4" stroke-linejoin="round">Mac</text>
<rect x="248.2" y="1016.2" width="91.9" height="5.1" fill="#ed7d31"/>
<text transform="translate(280.95,1047.8) scale(0.8519,1)" font-family="'Liberation Sans', sans-serif" font-size="24.71" fill="#000" stroke="#000" stroke-width="0.25" stroke-linejoin="round">IKE</text>
<line x1="424.7" y1="768.8" x2="738.6" y2="768.8" stroke="#1c1c1c" stroke-width="1.4"/>
<line x1="424.7" y1="980.4" x2="738.6" y2="980.4" stroke="#1c1c1c" stroke-width="1.4"/>
<line x1="737.9" y1="768.8" x2="737.9" y2="980.4" stroke="#1c1c1c" stroke-width="1.4"/>
<line x1="425.4" y1="768.8" x2="425.4" y2="980.4" stroke="#1c1c1c" stroke-width="1.4"/>
<line x1="417.2" y1="769.5" x2="425.4" y2="769.5" stroke="#1c1c1c" stroke-width="1.4"/>
<line x1="417.2" y1="811.3" x2="425.4" y2="811.3" stroke="#1c1c1c" stroke-width="1.4"/>
<line x1="417.2" y1="853.5" x2="425.4" y2="853.5" stroke="#1c1c1c" stroke-width="1.4"/>
<line x1="417.2" y1="895.7" x2="425.4" y2="895.7" stroke="#1c1c1c" stroke-width="1.4"/>
<line x1="417.2" y1="938.3" x2="425.4" y2="938.3" stroke="#1c1c1c" stroke-width="1.4"/>
<line x1="417.2" y1="980.8" x2="425.4" y2="980.8" stroke="#1c1c1c" stroke-width="1.4"/>
<text transform="translate(386.25,777) scale(0.9667,1)" font-family="'Liberation Sans', sans-serif" font-size="21.8" fill="#000" stroke="#000" stroke-width="0.3" stroke-linejoin="round">2.5</text>
<text transform="translate(386.19,818.8) scale(0.9667,1)" font-family="'Liberation Sans', sans-serif" font-size="21.8" fill="#000" stroke="#000" stroke-width="0.3" stroke-linejoin="round">2.0</text>
<text transform="translate(386.25,861) scale(0.9667,1)" font-family="'Liberation Sans', sans-serif" font-size="21.8" fill="#000" stroke="#000" stroke-width="0.3" stroke-linejoin="round">1.5</text>
<text transform="translate(386.19,903.2) scale(0.9667,1)" font-family="'Liberation Sans', sans-serif" font-size="21.8" fill="#000" stroke="#000" stroke-width="0.3" stroke-linejoin="round">1.0</text>
<text transform="translate(386.25,945.8) scale(0.9667,1)" font-family="'Liberation Sans', sans-serif" font-size="21.8" fill="#000" stroke="#000" stroke-width="0.3" stroke-linejoin="round">0.5</text>
<text transform="translate(386.19,988.3) scale(0.9667,1)" font-family="'Liberation Sans', sans-serif" font-size="21.8" fill="#000" stroke="#000" stroke-width="0.3" stroke-linejoin="round">0.0</text>
<text transform="translate(543.35,750) scale(0.9817,1)" font-family="'Liberation Sans', sans-serif" font-size="33.58" fill="#000" stroke="#000" stroke-width="0.25" stroke-linejoin="round">U87</text>
<rect x="449.5" y="895.7" width="47.6" height="84.7" fill="#000"/>
<rect x="521.4" y="957.7" width="48" height="22.7" fill="#ff0000"/>
<rect x="593.3" y="922" width="48" height="58.4" fill="#ff8000"/>
<rect x="665.4" y="856.9" width="48" height="123.5" fill="#0000c0"/>
<line x1="473.4" y1="881.8" x2="473.4" y2="895.7" stroke="#000" stroke-width="1.5"/>
<line x1="461.5" y1="881.8" x2="485.3" y2="881.8" stroke="#000" stroke-width="1.5"/>
<circle cx="473.4" cy="879" r="2.5" fill="#000"/>
<circle cx="473.4" cy="892" r="2.5" fill="#000"/>
<line x1="545.3" y1="955.3" x2="545.3" y2="960" stroke="#000" stroke-width="1.5"/>
<line x1="533.3" y1="955.3" x2="557.3" y2="955.3" stroke="#000" stroke-width="1.5"/>
<line x1="533.3" y1="960" x2="557.3" y2="960" stroke="#000" stroke-width="1.5"/>
<circle cx="536.9" cy="954.3" r="2.4" fill="#000"/>
<circle cx="536.9" cy="959.4" r="2.4" fill="#000"/>
<circle cx="545.3" cy="958.4" r="2.4" fill="#000"/>
<circle cx="553.7" cy="958.8" r="2.4" fill="#000"/>
<line x1="617.4" y1="911" x2="617.4" y2="932.8" stroke="#000" stroke-width="1.5"/>
<line x1="605.4" y1="911" x2="629.4" y2="911" stroke="#000" stroke-width="1.5"/>
<line x1="605.4" y1="932.8" x2="629.4" y2="932.8" stroke="#000" stroke-width="1.5"/>
<circle cx="612.9" cy="915.5" r="2.4" fill="#000"/>
<circle cx="621.5" cy="915.5" r="2.4" fill="#000"/>
<circle cx="621.5" cy="920" r="2.4" fill="#000"/>
<circle cx="617.4" cy="938.5" r="2.4" fill="#000"/>
<line x1="689.3" y1="798.1" x2="689.3" y2="915.9" stroke="#000" stroke-width="1.5"/>
<line x1="677.3" y1="798.1" x2="701.3" y2="798.1" stroke="#000" stroke-width="1.5"/>
<line x1="677.3" y1="915.9" x2="701.3" y2="915.9" stroke="#000" stroke-width="1.5"/>
<circle cx="689.3" cy="786.8" r="2.4" fill="#000"/>
<circle cx="689.3" cy="842.4" r="2.4" fill="#000"/>
<circle cx="689.3" cy="869.6" r="2.4" fill="#000"/>
<circle cx="689.3" cy="928.7" r="2.4" fill="#000"/>
<line x1="473.4" y1="807.7" x2="693" y2="807.7" stroke="#111" stroke-width="1.4"/>
<text transform="translate(578.19,803.09) scale(1.0155,1.0968)" font-family="'DejaVu Sans', sans-serif" font-size="20" font-weight="bold" letter-spacing="2.24" fill="#000" stroke="#000" stroke-width="0.4" stroke-linejoin="round">*</text>
<line x1="472.4" y1="844.2" x2="619" y2="844.2" stroke="#111" stroke-width="1.4"/>
<text transform="translate(527.49,839.53) scale(1.0273,1.1398)" font-family="'DejaVu Sans', sans-serif" font-size="20" font-weight="bold" letter-spacing="2.24" fill="#000" stroke="#000" stroke-width="0.4" stroke-linejoin="round">***</text>
<line x1="473.8" y1="880.6" x2="548.6" y2="880.6" stroke="#111" stroke-width="1.4"/>
<text transform="translate(492.39,876.39) scale(1.0330,1.1505)" font-family="'DejaVu Sans', sans-serif" font-size="20" font-weight="bold" letter-spacing="2.24" fill="#000" stroke="#000" stroke-width="0.4" stroke-linejoin="round">***</text>
<line x1="473.4" y1="980.4" x2="473.4" y2="988.6" stroke="#1c1c1c" stroke-width="1.4"/>
<line x1="545.3" y1="980.4" x2="545.3" y2="988.6" stroke="#1c1c1c" stroke-width="1.4"/>
<line x1="617.4" y1="980.4" x2="617.4" y2="988.6" stroke="#1c1c1c" stroke-width="1.4"/>
<line x1="689.3" y1="980.4" x2="689.3" y2="988.6" stroke="#1c1c1c" stroke-width="1.4"/>
<text transform="translate(454.81,1012.2) scale(0.9326,1)" font-family="'Liberation Sans', sans-serif" font-size="25.44" fill="#000" stroke="#000" stroke-width="0.4" stroke-linejoin="round">Ctrl</text>
<text transform="translate(525.93,1012.2) scale(0.9207,1)" font-family="'Liberation Sans', sans-serif" font-size="25.44" fill="#000" stroke="#000" stroke-width="0.4" stroke-linejoin="round">IKE</text>
<text transform="translate(586.92,1012.2) scale(0.8949,1)" font-family="'Liberation Sans', sans-serif" font-size="25.44" fill="#000" stroke="#000" stroke-width="0.4" stroke-linejoin="round">FER1</text>
<text transform="translate(666.53,1012.2) scale(0.9387,1)" font-family="'Liberation Sans', sans-serif" font-size="25.44" fill="#000" stroke="#000" stroke-width="0.4" stroke-linejoin="round">Mac</text>
<rect x="604.1" y="1010.5" width="92" height="5.1" fill="#ed7d31"/>
<text transform="translate(626.07,1045.4) scale(0.8464,1)" font-family="'Liberation Sans', sans-serif" font-size="24.71" fill="#000" stroke="#000" stroke-width="0.25" stroke-linejoin="round">IKE</text>
<text transform="translate(904.32,760.3) scale(2.5849,2.0830)" font-family="'Liberation Sans', sans-serif" font-size="20" fill="#000">f</text>
<text transform="translate(917.55,974.87) rotate(-90) scale(1.3155,1.2517)" font-family="'Liberation Sans', sans-serif" font-size="20" stroke="#000" stroke-width="0.4" stroke-linejoin="round">Relative Survival</text>
<line x1="971.5" y1="770.9" x2="1273" y2="770.9" stroke="#000" stroke-width="1.6"/>
<line x1="964.8" y1="983.9" x2="1273" y2="983.9" stroke="#111" stroke-width="1.6"/>
<line x1="1272.2" y1="770.9" x2="1272.2" y2="983.9" stroke="#222" stroke-width="1.5"/>
<line x1="972.3" y1="770.9" x2="972.3" y2="858.5" stroke="#222" stroke-width="1.5"/>
<line x1="972.3" y1="885.3" x2="972.3" y2="983.9" stroke="#222" stroke-width="1.5"/>
<line x1="964.8" y1="771.5" x2="972.3" y2="771.5" stroke="#1c1c1c" stroke-width="1.4"/>
<line x1="964.8" y1="793.4" x2="972.3" y2="793.4" stroke="#1c1c1c" stroke-width="1.4"/>
<line x1="964.8" y1="815" x2="972.3" y2="815" stroke="#1c1c1c" stroke-width="1.4"/>
<line x1="964.8" y1="836.5" x2="972.3" y2="836.5" stroke="#1c1c1c" stroke-width="1.4"/>
<line x1="964.8" y1="918.3" x2="972.3" y2="918.3" stroke="#1c1c1c" stroke-width="1.4"/>
<line x1="964.8" y1="951.2" x2="972.3" y2="951.2" stroke="#1c1c1c" stroke-width="1.4"/>
<line x1="967.2" y1="858.5" x2="977" y2="858.5" stroke="#1c1c1c" stroke-width="1.4"/>
<line x1="967.2" y1="885.3" x2="977" y2="885.3" stroke="#1c1c1c" stroke-width="1.4"/>
<text transform="translate(939.22,777.85) scale(0.9032,1)" font-family="'Liberation Sans', sans-serif" font-size="18.46" fill="#000" stroke="#000" stroke-width="0.3" stroke-linejoin="round">1.1</text>
<text transform="translate(939.05,799.75) scale(0.9032,1)" font-family="'Liberation Sans', sans-serif" font-size="18.46" fill="#000" stroke="#000" stroke-width="0.3" stroke-linejoin="round">1.0</text>
<text transform="translate(939.17,821.35) scale(0.9032,1)" font-family="'Liberation Sans', sans-serif" font-size="18.46" fill="#000" stroke="#000" stroke-width="0.3" stroke-linejoin="round">0.9</text>
<text transform="translate(939.13,842.85) scale(0.9032,1)" font-family="'Liberation Sans', sans-serif" font-size="18.46" fill="#000" stroke="#000" stroke-width="0.3" stroke-linejoin="round">0.8</text>
<text transform="translate(939.26,864.85) scale(0.9032,1)" font-family="'Liberation Sans', sans-serif" font-size="18.46" fill="#000" stroke="#000" stroke-width="0.3" stroke-linejoin="round">0.7</text>
<text transform="translate(929.84,891.65) scale(0.9032,1)" font-family="'Liberation Sans', sans-serif" font-size="18.46" fill="#000" stroke="#000" stroke-width="0.3" stroke-linejoin="round">0.15</text>
<text transform="translate(929.8,924.65) scale(0.9032,1)" font-family="'Liberation Sans', sans-serif" font-size="18.46" fill="#000" stroke="#000" stroke-width="0.3" stroke-linejoin="round">0.10</text>
<text transform="translate(929.84,957.55) scale(0.9032,1)" font-family="'Liberation Sans', sans-serif" font-size="18.46" fill="#000" stroke="#000" stroke-width="0.3" stroke-linejoin="round">0.05</text>
<text transform="translate(929.8,990.65) scale(0.9032,1)" font-family="'Liberation Sans', sans-serif" font-size="18.46" fill="#000" stroke="#000" stroke-width="0.3" stroke-linejoin="round">0.00</text>
<text transform="translate(1123.42,751.1) scale(0.9367,1)" font-family="'Liberation Sans', sans-serif" font-size="33.58" fill="#000" stroke="#000" stroke-width="0.25" stroke-linejoin="round">A375</text>
<polyline points="1002.2,793.4 1038.5,860.8" fill="none" stroke="#0000ff" stroke-width="2.4" stroke-linejoin="round"/>
<polyline points="1051.2,885.2 1061.8,904.5 1121.9,903.8 1181.9,918.3 1241.8,919.3" fill="none" stroke="#0000ff" stroke-width="2.4" stroke-linejoin="round"/>
<circle cx="1002.2" cy="793.4" r="4.6" fill="#0000ff"/>
<circle cx="1061.8" cy="904.5" r="4.6" fill="#0000ff"/>
<circle cx="1121.9" cy="903.8" r="4.6" fill="#0000ff"/>
<circle cx="1181.9" cy="918.3" r="4.6" fill="#0000ff"/>
<circle cx="1241.8" cy="919.3" r="4.6" fill="#0000ff"/>
<line x1="1061.8" y1="899.5" x2="1061.8" y2="909.6" stroke="#0000ff" stroke-width="2.3"/>
<line x1="1057.8" y1="899.5" x2="1065.8" y2="899.5" stroke="#0000ff" stroke-width="2.3"/>
<line x1="1057.8" y1="909.6" x2="1065.8" y2="909.6" stroke="#0000ff" stroke-width="2.3"/>
<line x1="1121.9" y1="887.2" x2="1121.9" y2="920.6" stroke="#0000ff" stroke-width="2.3"/>
<line x1="1117.9" y1="887.2" x2="1125.9" y2="887.2" stroke="#0000ff" stroke-width="2.3"/>
<line x1="1117.9" y1="920.6" x2="1125.9" y2="920.6" stroke="#0000ff" stroke-width="2.3"/>
<line x1="1241.8" y1="911.8" x2="1241.8" y2="927.1" stroke="#0000ff" stroke-width="2.3"/>
<line x1="1237.8" y1="911.8" x2="1245.8" y2="911.8" stroke="#0000ff" stroke-width="2.3"/>
<line x1="1237.8" y1="927.1" x2="1245.8" y2="927.1" stroke="#0000ff" stroke-width="2.3"/>
<line x1="1002.2" y1="775.6" x2="1002.2" y2="828.3" stroke="#ff0000" stroke-width="2.3"/>
<line x1="998.45" y1="775.6" x2="1005.95" y2="775.6" stroke="#ff0000" stroke-width="2.3"/>
<line x1="998.45" y1="828.3" x2="1005.95" y2="828.3" stroke="#ff0000" stroke-width="2.3"/>
<polyline points="1002.2,802.1 1024.4,860.8" fill="none" stroke="#ff0000" stroke-width="2.4" stroke-linejoin="round"/>
<polyline points="1033.6,885.2 1061.8,958 1121.9,981.2 1181.9,977.4 1241.8,976.7" fill="none" stroke="#ff0000" stroke-width="2.4" stroke-linejoin="round"/>
<circle cx="1002.2" cy="802.1" r="4.6" fill="#ff0000"/>
<circle cx="1061.8" cy="958" r="4.6" fill="#ff0000"/>
<circle cx="1121.9" cy="981.2" r="4.6" fill="#ff0000"/>
<circle cx="1181.9" cy="977.4" r="4.6" fill="#ff0000"/>
<circle cx="1241.8" cy="976.7" r="4.6" fill="#ff0000"/>
<text transform="translate(1008.97,801.3) scale(0.9963,1)" font-family="'Liberation Sans', sans-serif" font-size="16.86" fill="#000" stroke="#000" stroke-width="0.2" stroke-linejoin="round">ns</text>
<text transform="translate(1054.59,885) scale(0.9776,1)" font-family="'Liberation Sans', sans-serif" font-size="16.86" fill="#000" stroke="#000" stroke-width="0.2" stroke-linejoin="round">ns</text>
<text transform="translate(1118.62,887.29) scale(0.9534,0.9892)" font-family="'DejaVu Sans', sans-serif" font-size="20" font-weight="bold" letter-spacing="2.24" fill="#000" stroke="#000" stroke-width="0.4" stroke-linejoin="round">*</text>
<text transform="translate(1172.12,914.29) scale(0.9621,0.9892)" font-family="'DejaVu Sans', sans-serif" font-size="20" font-weight="bold" letter-spacing="2.24" fill="#000" stroke="#000" stroke-width="0.4" stroke-linejoin="round">**</text>
<text transform="translate(1225.51,918.23) scale(0.9730,1.0323)" font-family="'DejaVu Sans', sans-serif" font-size="20" font-weight="bold" letter-spacing="2.24" fill="#000" stroke="#000" stroke-width="0.4" stroke-linejoin="round">***</text>
<line x1="1126.6" y1="794" x2="1147.6" y2="794" stroke="#ff0000" stroke-width="2"/>
<circle cx="1137.1" cy="794" r="4.2" fill="#ff0000"/>
<line x1="1126.6" y1="814.8" x2="1147.6" y2="814.8" stroke="#0000ff" stroke-width="2"/>
<circle cx="1137.1" cy="814.8" r="4.2" fill="#0000ff"/>
<text transform="translate(1159.46,800.1) scale(0.9574,1)" font-family="'Liberation Sans', sans-serif" font-size="16.86" fill="#000" stroke="#000" stroke-width="0.4" stroke-linejoin="round">shGPX4</text>
<text transform="translate(1159.45,820.5) scale(0.9774,1)" font-family="'Liberation Sans', sans-serif" font-size="16.86" fill="#000" stroke="#000" stroke-width="0.4" stroke-linejoin="round">shGPX4 +Mac</text>
<line x1="1002.2" y1="983.9" x2="1002.2" y2="992.1" stroke="#1c1c1c" stroke-width="1.4"/>
<line x1="1061.8" y1="983.9" x2="1061.8" y2="992.1" stroke="#1c1c1c" stroke-width="1.4"/>
<line x1="1121.9" y1="983.9" x2="1121.9" y2="992.1" stroke="#1c1c1c" stroke-width="1.4"/>
<line x1="1181.9" y1="983.9" x2="1181.9" y2="992.1" stroke="#1c1c1c" stroke-width="1.4"/>
<line x1="1241.8" y1="983.9" x2="1241.8" y2="992.1" stroke="#1c1c1c" stroke-width="1.4"/>
<text transform="translate(969.08,1015.2) scale(0.9964,1)" font-family="'Liberation Sans', sans-serif" font-size="22.09" fill="#000" stroke="#000" stroke-width="0.4" stroke-linejoin="round">FER-1</text>
<text transform="translate(1055.2,1015.2) scale(1.0238,1)" font-family="'Liberation Sans', sans-serif" font-size="22.09" fill="#000" stroke="#000" stroke-width="0.4" stroke-linejoin="round">0</text>
<text transform="translate(1115.46,1015.2) scale(1.0673,1)" font-family="'Liberation Sans', sans-serif" font-size="22.09" fill="#000" stroke="#000" stroke-width="0.4" stroke-linejoin="round">5</text>
<text transform="translate(1168.38,1015.2) scale(1.0391,1)" font-family="'Liberation Sans', sans-serif" font-size="22.09" fill="#000" stroke="#000" stroke-width="0.4" stroke-linejoin="round">10</text>
<text transform="translate(1228.54,1015.2) scale(1.0491,1)" font-family="'Liberation Sans', sans-serif" font-size="22.09" fill="#000" stroke="#000" stroke-width="0.4" stroke-linejoin="round">20</text>
<rect x="1056.1" y="1034.4" width="174.7" height="6.1" fill="#ff0000"/>
<text transform="translate(1116.85,1062.1) scale(0.8656,1)" font-family="'Liberation Sans', sans-serif" font-size="24.56" fill="#000" stroke="#000" stroke-width="0.25" stroke-linejoin="round">RSL3</text>
<line x1="1277.4" y1="769.9" x2="1587.7" y2="769.9" stroke="#111" stroke-width="1.6"/>
<line x1="1277.4" y1="984.9" x2="1587.7" y2="984.9" stroke="#111" stroke-width="1.6"/>
<line x1="1586.9" y1="769.9" x2="1586.9" y2="984.9" stroke="#222" stroke-width="1.5"/>
<line x1="1282.5" y1="769.9" x2="1282.5" y2="858.3" stroke="#222" stroke-width="1.5"/>
<line x1="1282.5" y1="885.3" x2="1282.5" y2="984.9" stroke="#222" stroke-width="1.5"/>
<line x1="1277.4" y1="791.9" x2="1282.5" y2="791.9" stroke="#1c1c1c" stroke-width="1.4"/>
<line x1="1277.4" y1="814" x2="1282.5" y2="814" stroke="#1c1c1c" stroke-width="1.4"/>
<line x1="1277.4" y1="835.9" x2="1282.5" y2="835.9" stroke="#1c1c1c" stroke-width="1.4"/>
<line x1="1277.4" y1="918.3" x2="1282.5" y2="918.3" stroke="#1c1c1c" stroke-width="1.4"/>
<line x1="1277.4" y1="951.6" x2="1282.5" y2="951.6" stroke="#1c1c1c" stroke-width="1.4"/>
<line x1="1277.4" y1="858.3" x2="1287.6" y2="858.3" stroke="#1c1c1c" stroke-width="1.4"/>
<line x1="1277.4" y1="885.3" x2="1287.6" y2="885.3" stroke="#1c1c1c" stroke-width="1.4"/>
<text transform="translate(1407.4,751.1) scale(0.9376,1)" font-family="'Liberation Sans', sans-serif" font-size="33.58" fill="#000" stroke="#000" stroke-width="0.25" stroke-linejoin="round">BeWo</text>
<line x1="1320.3" y1="770.4" x2="1320.3" y2="820.9" stroke="#0000ff" stroke-width="2"/>
<line x1="1316.3" y1="820.9" x2="1324.3" y2="820.9" stroke="#0000ff" stroke-width="2"/>
<polyline points="1320.3,792.3 1396.5,844 1418.8,859.3" fill="none" stroke="#0000ff" stroke-width="2.4" stroke-linejoin="round"/>
<polyline points="1449.4,884.9 1472.3,901.6 1548.5,955.7" fill="none" stroke="#0000ff" stroke-width="2.4" stroke-linejoin="round"/>
<circle cx="1396.5" cy="844" r="4.6" fill="#0000ff"/>
<circle cx="1472.3" cy="901.6" r="4.6" fill="#0000ff"/>
<circle cx="1548.5" cy="955.7" r="4.6" fill="#0000ff"/>
<line x1="1320.3" y1="771.9" x2="1320.3" y2="812" stroke="#ff0000" stroke-width="2.3"/>
<line x1="1316.3" y1="771.9" x2="1324.3" y2="771.9" stroke="#ff0000" stroke-width="2.3"/>
<line x1="1316.3" y1="812" x2="1324.3" y2="812" stroke="#ff0000" stroke-width="2.3"/>
<polyline points="1320.3,792.3 1348.3,859.8" fill="none" stroke="#ff0000" stroke-width="2.4" stroke-linejoin="round"/>
<polyline points="1358.1,885 1396.5,975.9 1472.3,984.1 1548.5,982.5" fill="none" stroke="#ff0000" stroke-width="2.4" stroke-linejoin="round"/>
<circle cx="1320.3" cy="792.3" r="4.6" fill="#ff0000"/>
<circle cx="1396.5" cy="975.9" r="4.6" fill="#ff0000"/>
<circle cx="1472.3" cy="984.1" r="4.6" fill="#ff0000"/>
<circle cx="1548.5" cy="982.5" r="4.6" fill="#ff0000"/>
<text transform="translate(1302.59,783.9) scale(0.9714,1)" font-family="'Liberation Sans', sans-serif" font-size="16.86" fill="#000" stroke="#000" stroke-width="0.2" stroke-linejoin="round">ns</text>
<text transform="translate(1392.36,844.95) scale(1.0984,1.1613)" font-family="'DejaVu Sans', sans-serif" font-size="20" font-weight="bold" letter-spacing="2.24" fill="#000" stroke="#000" stroke-width="0.8" stroke-linejoin="round">*</text>
<text transform="translate(1459.76,902.04) scale(1.1014,1.2688)" font-family="'DejaVu Sans', sans-serif" font-size="20" font-weight="bold" letter-spacing="2.24" fill="#000" stroke="#000" stroke-width="0.8" stroke-linejoin="round">***</text>
<text transform="translate(1534.36,955.02) scale(1.1014,1.2473)" font-family="'DejaVu Sans', sans-serif" font-size="20" font-weight="bold" letter-spacing="2.24" fill="#000" stroke="#000" stroke-width="0.8" stroke-linejoin="round">***</text>
<line x1="1444.3" y1="784.4" x2="1466.1" y2="784.4" stroke="#ff0000" stroke-width="2"/>
<circle cx="1455.2" cy="784.4" r="4.2" fill="#ff0000"/>
<line x1="1444.3" y1="813.4" x2="1466.1" y2="813.4" stroke="#0000ff" stroke-width="2"/>
<circle cx="1455.2" cy="813.4" r="4.2" fill="#0000ff"/>
<text transform="translate(1478.15,789.9) scale(0.9555,1)" font-family="'Liberation Sans', sans-serif" font-size="17.15" fill="#000" stroke="#000" stroke-width="0.4" stroke-linejoin="round">shGPX4</text>
<text transform="translate(1478.14,819.1) scale(0.9727,1)" font-family="'Liberation Sans', sans-serif" font-size="17.15" fill="#000" stroke="#000" stroke-width="0.4" stroke-linejoin="round">shGPX4 +Mac</text>
<line x1="1320.3" y1="984.9" x2="1320.3" y2="993.1" stroke="#1c1c1c" stroke-width="1.4"/>
<line x1="1396.5" y1="984.9" x2="1396.5" y2="993.1" stroke="#1c1c1c" stroke-width="1.4"/>
<line x1="1472.3" y1="984.9" x2="1472.3" y2="993.1" stroke="#1c1c1c" stroke-width="1.4"/>
<line x1="1548.5" y1="984.9" x2="1548.5" y2="993.1" stroke="#1c1c1c" stroke-width="1.4"/>
<text transform="translate(1286.75,1016.4) scale(1.0128,1)" font-family="'Liberation Sans', sans-serif" font-size="22.09" fill="#000" stroke="#000" stroke-width="0.4" stroke-linejoin="round">FER-1</text>
<text transform="translate(1383.8,1016.4) scale(1.0255,1)" font-family="'Liberation Sans', sans-serif" font-size="22.09" fill="#000" stroke="#000" stroke-width="0.4" stroke-linejoin="round">10</text>
<text transform="translate(1459.45,1016.4) scale(1.0428,1)" font-family="'Liberation Sans', sans-serif" font-size="22.09" fill="#000" stroke="#000" stroke-width="0.4" stroke-linejoin="round">25</text>
<text transform="translate(1535.69,1016.4) scale(1.0302,1)" font-family="'Liberation Sans', sans-serif" font-size="22.09" fill="#000" stroke="#000" stroke-width="0.4" stroke-linejoin="round">50</text>
<rect x="1385.5" y="1030.9" width="174.8" height="5.7" fill="#ff0000"/>
<text transform="translate(1447.66,1059.1) scale(0.8571,1)" font-family="'Liberation Sans', sans-serif" font-size="24.56" fill="#000" stroke="#000" stroke-width="0.25" stroke-linejoin="round">RSL3</text>
<line x1="1595.7" y1="771.5" x2="1906" y2="771.5" stroke="#1c1c1c" stroke-width="1.4"/>
<line x1="1595.7" y1="992.3" x2="1906" y2="992.3" stroke="#1c1c1c" stroke-width="1.4"/>
<line x1="1905.3" y1="771.5" x2="1905.3" y2="992.3" stroke="#1c1c1c" stroke-width="1.4"/>
<line x1="1596.4" y1="771.5" x2="1596.4" y2="992.3" stroke="#1c1c1c" stroke-width="1.4"/>
<text transform="translate(1726.05,751.1) scale(0.9817,1)" font-family="'Liberation Sans', sans-serif" font-size="33.58" fill="#000" stroke="#000" stroke-width="0.25" stroke-linejoin="round">U87</text>
<line x1="1622.1" y1="817.9" x2="1622.1" y2="871.3" stroke="#0000ff" stroke-width="2.2"/>
<line x1="1617.9" y1="817.9" x2="1626.3" y2="817.9" stroke="#0000ff" stroke-width="2.2"/>
<line x1="1617.9" y1="871.3" x2="1626.3" y2="871.3" stroke="#0000ff" stroke-width="2.2"/>
<line x1="1673.4" y1="818.5" x2="1673.4" y2="851.8" stroke="#0000ff" stroke-width="2.2"/>
<line x1="1669.2" y1="818.5" x2="1677.6" y2="818.5" stroke="#0000ff" stroke-width="2.2"/>
<line x1="1669.2" y1="851.8" x2="1677.6" y2="851.8" stroke="#0000ff" stroke-width="2.2"/>
<line x1="1725.1" y1="834.8" x2="1725.1" y2="858.7" stroke="#0000ff" stroke-width="2.2"/>
<line x1="1720.9" y1="834.8" x2="1729.3" y2="834.8" stroke="#0000ff" stroke-width="2.2"/>
<line x1="1720.9" y1="858.7" x2="1729.3" y2="858.7" stroke="#0000ff" stroke-width="2.2"/>
<line x1="1776.2" y1="838.3" x2="1776.2" y2="867.5" stroke="#0000ff" stroke-width="2.2"/>
<line x1="1772" y1="838.3" x2="1780.4" y2="838.3" stroke="#0000ff" stroke-width="2.2"/>
<line x1="1772" y1="867.5" x2="1780.4" y2="867.5" stroke="#0000ff" stroke-width="2.2"/>
<line x1="1827.7" y1="876.4" x2="1827.7" y2="893.8" stroke="#0000ff" stroke-width="2.2"/>
<line x1="1823.5" y1="876.4" x2="1831.9" y2="876.4" stroke="#0000ff" stroke-width="2.2"/>
<line x1="1823.5" y1="893.8" x2="1831.9" y2="893.8" stroke="#0000ff" stroke-width="2.2"/>
<line x1="1878.9" y1="869" x2="1878.9" y2="915.8" stroke="#0000ff" stroke-width="2.2"/>
<line x1="1874.7" y1="869" x2="1883.1" y2="869" stroke="#0000ff" stroke-width="2.2"/>
<line x1="1874.7" y1="915.8" x2="1883.1" y2="915.8" stroke="#0000ff" stroke-width="2.2"/>
<polyline points="1622.1,844 1673.4,835.2 1725.1,847.1 1776.2,852.9 1827.7,885.2 1878.9,892.4" fill="none" stroke="#0000ff" stroke-width="2.4" stroke-linejoin="round"/>
<circle cx="1622.1" cy="844" r="4.6" fill="#0000ff"/>
<circle cx="1673.4" cy="835.2" r="4.6" fill="#0000ff"/>
<circle cx="1725.1" cy="847.1" r="4.6" fill="#0000ff"/>
<circle cx="1776.2" cy="852.9" r="4.6" fill="#0000ff"/>
<circle cx="1827.7" cy="885.2" r="4.6" fill="#0000ff"/>
<circle cx="1878.9" cy="892.4" r="4.6" fill="#0000ff"/>
<line x1="1622.1" y1="783.8" x2="1622.1" y2="906" stroke="#ff0000" stroke-width="2.2"/>
<line x1="1617.9" y1="783.8" x2="1626.3" y2="783.8" stroke="#ff0000" stroke-width="2.2"/>
<line x1="1617.9" y1="906" x2="1626.3" y2="906" stroke="#ff0000" stroke-width="2.2"/>
<line x1="1673.4" y1="800.9" x2="1673.4" y2="890" stroke="#ff0000" stroke-width="2.2"/>
<line x1="1669.2" y1="800.9" x2="1677.6" y2="800.9" stroke="#ff0000" stroke-width="2.2"/>
<line x1="1669.2" y1="890" x2="1677.6" y2="890" stroke="#ff0000" stroke-width="2.2"/>
<line x1="1725.1" y1="899.7" x2="1725.1" y2="928.7" stroke="#ff0000" stroke-width="2.2"/>
<line x1="1720.9" y1="899.7" x2="1729.3" y2="899.7" stroke="#ff0000" stroke-width="2.2"/>
<line x1="1720.9" y1="928.7" x2="1729.3" y2="928.7" stroke="#ff0000" stroke-width="2.2"/>
<line x1="1776.2" y1="911.6" x2="1776.2" y2="951.4" stroke="#ff0000" stroke-width="2.2"/>
<line x1="1772" y1="911.6" x2="1780.4" y2="911.6" stroke="#ff0000" stroke-width="2.2"/>
<line x1="1772" y1="951.4" x2="1780.4" y2="951.4" stroke="#ff0000" stroke-width="2.2"/>
<line x1="1827.7" y1="968" x2="1827.7" y2="979.8" stroke="#ff0000" stroke-width="2.2"/>
<line x1="1823.5" y1="968" x2="1831.9" y2="968" stroke="#ff0000" stroke-width="2.2"/>
<line x1="1823.5" y1="979.8" x2="1831.9" y2="979.8" stroke="#ff0000" stroke-width="2.2"/>
<line x1="1878.9" y1="953.9" x2="1878.9" y2="978.2" stroke="#ff0000" stroke-width="2.2"/>
<line x1="1874.7" y1="953.9" x2="1883.1" y2="953.9" stroke="#ff0000" stroke-width="2.2"/>
<line x1="1874.7" y1="978.2" x2="1883.1" y2="978.2" stroke="#ff0000" stroke-width="2.2"/>
<polyline points="1622.1,845.5 1673.4,845.7 1725.1,913.7 1776.2,931.4 1827.7,973.7 1878.9,965.9" fill="none" stroke="#ff0000" stroke-width="2.4" stroke-linejoin="round"/>
<circle cx="1622.1" cy="845.5" r="4.6" fill="#ff0000"/>
<circle cx="1673.4" cy="845.7" r="4.6" fill="#ff0000"/>
<circle cx="1725.1" cy="913.7" r="4.6" fill="#ff0000"/>
<circle cx="1776.2" cy="931.4" r="4.6" fill="#ff0000"/>
<circle cx="1827.7" cy="973.7" r="4.6" fill="#ff0000"/>
<circle cx="1878.9" cy="965.9" r="4.6" fill="#ff0000"/>
<text transform="translate(1702.6,838.85) scale(1.0075,1.1613)" font-family="'DejaVu Sans', sans-serif" font-size="20" font-weight="bold" letter-spacing="2.24" fill="#000" stroke="#000" stroke-width="0.4" stroke-linejoin="round">****</text>
<text transform="translate(1758.8,841.53) scale(1.0054,1.1398)" font-family="'DejaVu Sans', sans-serif" font-size="20" font-weight="bold" letter-spacing="2.24" fill="#000" stroke="#000" stroke-width="0.4" stroke-linejoin="round">****</text>
<text transform="translate(1807.9,877.41) scale(1.0054,1.1183)" font-family="'DejaVu Sans', sans-serif" font-size="20" font-weight="bold" letter-spacing="2.24" fill="#000" stroke="#000" stroke-width="0.4" stroke-linejoin="round">****</text>
<text transform="translate(1859.5,872) scale(1.0054,1.1720)" font-family="'DejaVu Sans', sans-serif" font-size="20" font-weight="bold" letter-spacing="2.24" fill="#000" stroke="#000" stroke-width="0.4" stroke-linejoin="round">****</text>
<line x1="1768" y1="788.3" x2="1789.9" y2="788.3" stroke="#ff0000" stroke-width="2"/>
<circle cx="1778.95" cy="788.3" r="4.2" fill="#ff0000"/>
<line x1="1768" y1="817.5" x2="1789.9" y2="817.5" stroke="#0000ff" stroke-width="2"/>
<circle cx="1778.95" cy="817.5" r="4.2" fill="#0000ff"/>
<text transform="translate(1802.05,794) scale(0.9506,1)" font-family="'Liberation Sans', sans-serif" font-size="17.3" fill="#000" stroke="#000" stroke-width="0.4" stroke-linejoin="round">shGPX4</text>
<text transform="translate(1802.04,823.6) scale(0.9619,1)" font-family="'Liberation Sans', sans-serif" font-size="17.3" fill="#000" stroke="#000" stroke-width="0.4" stroke-linejoin="round">shGPX4+Mac</text>
<line x1="1622.1" y1="992.3" x2="1622.1" y2="1000.6" stroke="#1c1c1c" stroke-width="1.4"/>
<line x1="1673.4" y1="992.3" x2="1673.4" y2="1000.6" stroke="#1c1c1c" stroke-width="1.4"/>
<line x1="1725.1" y1="992.3" x2="1725.1" y2="1000.6" stroke="#1c1c1c" stroke-width="1.4"/>
<line x1="1776.2" y1="992.3" x2="1776.2" y2="1000.6" stroke="#1c1c1c" stroke-width="1.4"/>
<line x1="1827.7" y1="992.3" x2="1827.7" y2="1000.6" stroke="#1c1c1c" stroke-width="1.4"/>
<line x1="1878.9" y1="992.3" x2="1878.9" y2="1000.6" stroke="#1c1c1c" stroke-width="1.4"/>
<text transform="translate(1596.78,1020.2) scale(0.9351,1)" font-family="'Liberation Sans', sans-serif" font-size="18.46" fill="#000" stroke="#000" stroke-width="0.4" stroke-linejoin="round">FER-1</text>
<text transform="translate(1668.15,1020.2) scale(1.0211,1)" font-family="'Liberation Sans', sans-serif" font-size="18.46" fill="#000" stroke="#000" stroke-width="0.4" stroke-linejoin="round">0</text>
<text transform="translate(1719.63,1020.2) scale(1.0492,1)" font-family="'Liberation Sans', sans-serif" font-size="18.46" fill="#000" stroke="#000" stroke-width="0.4" stroke-linejoin="round">5</text>
<text transform="translate(1766.48,1020.2) scale(0.9558,1)" font-family="'Liberation Sans', sans-serif" font-size="18.46" fill="#000" stroke="#000" stroke-width="0.4" stroke-linejoin="round">10</text>
<text transform="translate(1817.6,1020.2) scale(0.9772,1)" font-family="'Liberation Sans', sans-serif" font-size="18.46" fill="#000" stroke="#000" stroke-width="0.4" stroke-linejoin="round">25</text>
<text transform="translate(1869.29,1020.2) scale(0.9602,1)" font-family="'Liberation Sans', sans-serif" font-size="18.46" fill="#000" stroke="#000" stroke-width="0.4" stroke-linejoin="round">50</text>
<rect x="1715.3" y="1025.2" width="174.7" height="5.7" fill="#ff0000"/>
<text transform="translate(1768.16,1059.1) scale(0.8605,1)" font-family="'Liberation Sans', sans-serif" font-size="24.56" fill="#000" stroke="#000" stroke-width="0.25" stroke-linejoin="round">RSL3</text>
</svg>
</body></html>
